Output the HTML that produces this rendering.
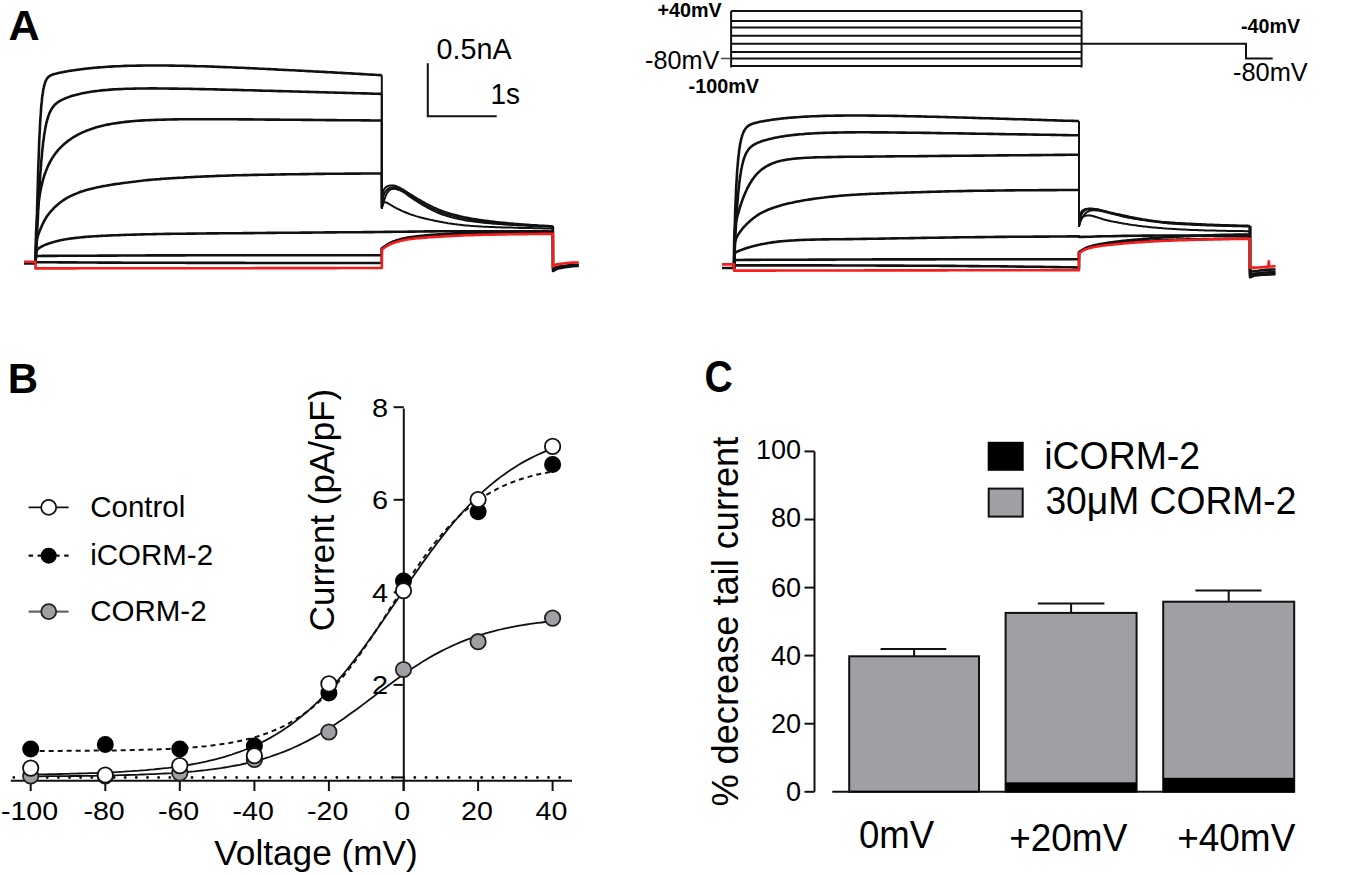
<!DOCTYPE html><html><head><meta charset="utf-8"><style>html,body{margin:0;padding:0;background:#fff;width:1350px;height:875px;overflow:hidden}svg{display:block}text{font-family:"Liberation Sans",sans-serif}</style></head><body>
<svg width="1350" height="875" viewBox="0 0 1350 875">
<rect width="1350" height="875" fill="#fff"/>
<g>
<path d="M24.0 263.5 L28.0 263.5 L32.0 263.5 L35.5 263.5 L35.5 262.0 L35.8 258.7 L36.0 252.0 L36.2 243.6 L36.5 234.2 L36.8 224.3 L37.0 214.4 L37.2 204.6 L37.5 195.0 L37.8 185.9 L38.0 177.2 L38.2 169.0 L38.5 161.3 L38.8 154.1 L39.0 147.5 L39.2 141.3 L39.5 135.6 L39.8 130.4 L40.0 125.5 L40.2 121.1 L40.5 117.1 L40.8 113.4 L41.0 110.0 L41.2 106.9 L41.5 104.0 L41.8 101.4 L42.0 99.1 L42.2 96.9 L42.5 95.0 L42.8 93.2 L43.0 91.6 L43.2 90.1 L43.5 88.8 L43.8 87.5 L44.0 86.4 L44.2 85.4 L44.5 84.5 L44.8 83.6 L45.0 82.9 L45.2 82.2 L45.5 81.5 L45.8 80.9 L46.0 80.4 L46.2 79.9 L46.5 79.4 L46.8 79.0 L47.0 78.6 L47.2 78.3 L47.5 78.0 L47.8 77.7 L48.0 77.4 L48.2 77.1 L48.5 76.9 L48.8 76.7 L49.0 76.5 L49.2 76.3 L49.5 76.1 L49.8 75.9 L50.0 75.8 L50.2 75.6 L50.5 75.5 L50.8 75.4 L51.0 75.2 L51.2 75.1 L51.5 75.0 L51.8 74.9 L52.0 74.8 L52.2 74.7 L52.5 74.6 L52.8 74.5 L53.0 74.4 L53.2 74.4 L53.5 74.3 L53.8 74.2 L54.0 74.1 L54.2 74.1 L54.5 74.0 L54.8 73.9 L55.0 73.9 L55.2 73.8 L55.5 73.7 L56.5 73.5 L57.5 73.2 L58.5 73.0 L59.5 72.8 L60.5 72.6 L61.5 72.4 L62.5 72.2 L63.5 72.0 L64.5 71.8 L65.5 71.6 L66.5 71.5 L67.5 71.3 L68.5 71.1 L69.5 70.9 L70.5 70.8 L71.5 70.6 L72.5 70.5 L73.5 70.3 L74.5 70.2 L75.5 70.0 L76.5 69.9 L77.5 69.7 L78.5 69.6 L79.5 69.5 L80.5 69.3 L81.5 69.2 L82.5 69.1 L83.5 69.0 L84.5 68.8 L85.5 68.7 L86.5 68.6 L87.5 68.5 L88.5 68.4 L89.5 68.3 L90.5 68.2 L91.5 68.1 L92.5 68.0 L93.5 67.9 L94.5 67.8 L95.5 67.7 L98.5 67.4 L101.5 67.2 L104.5 67.0 L107.5 66.8 L110.5 66.6 L113.5 66.4 L116.5 66.3 L119.5 66.2 L122.5 66.0 L125.5 65.9 L128.5 65.8 L131.5 65.7 L134.5 65.7 L137.5 65.6 L140.5 65.6 L143.5 65.5 L146.5 65.5 L149.5 65.5 L152.5 65.5 L155.5 65.5 L158.5 65.5 L161.5 65.5 L164.5 65.5 L167.5 65.5 L170.5 65.6 L173.5 65.6 L176.5 65.7 L179.5 65.7 L182.5 65.8 L185.5 65.9 L188.5 65.9 L191.5 66.0 L194.5 66.1 L197.5 66.2 L200.5 66.3 L203.5 66.3 L206.5 66.4 L209.5 66.5 L212.5 66.6 L215.5 66.8 L218.5 66.9 L221.5 67.0 L224.5 67.1 L227.5 67.2 L230.5 67.3 L233.5 67.5 L236.5 67.6 L239.5 67.7 L242.5 67.8 L245.5 68.0 L248.5 68.1 L251.5 68.3 L254.5 68.4 L257.5 68.5 L260.5 68.7 L263.5 68.8 L266.5 69.0 L269.5 69.1 L272.5 69.3 L275.5 69.4 L278.5 69.6 L281.5 69.7 L284.5 69.9 L287.5 70.0 L290.5 70.2 L293.5 70.3 L296.5 70.5 L299.5 70.6 L302.5 70.8 L305.5 71.0 L308.5 71.1 L311.5 71.3 L314.5 71.5 L317.5 71.6 L320.5 71.8 L323.5 71.9 L326.5 72.1 L329.5 72.3 L332.5 72.4 L335.5 72.6 L338.5 72.8 L341.5 72.9 L344.5 73.1 L347.5 73.3 L350.5 73.4 L353.5 73.6 L356.5 73.8 L359.5 73.9 L362.5 74.1 L365.5 74.3 L368.5 74.5 L371.5 74.6 L374.5 74.8 L377.5 75.0 L380.5 75.1 L381.8 75.2" fill="none" stroke="#111" stroke-width="2.6" stroke-linejoin="round"/>
<path d="M381.8 75.2 L381.8 208.0 L382.3 199.6 L382.8 193.6 L383.3 191.1 L383.8 189.8 L384.3 188.9 L384.8 188.3 L385.3 187.8 L385.8 187.3 L386.3 187.0 L386.8 186.6 L387.3 186.4 L387.8 186.1 L388.3 185.9 L388.8 185.8 L389.3 185.7 L389.8 185.6 L390.3 185.5 L390.8 185.4 L391.3 185.4 L391.8 185.4 L392.3 185.4 L392.8 185.4 L393.3 185.4 L393.8 185.5 L394.3 185.6 L394.8 185.7 L395.3 185.9 L395.8 186.0 L396.3 186.2 L396.8 186.4 L397.3 186.6 L397.8 186.9 L398.3 187.1 L398.8 187.3 L399.3 187.6 L399.8 187.8 L400.3 188.0 L400.8 188.3 L401.3 188.6 L401.8 188.9 L403.8 190.0 L405.8 191.3 L407.8 192.6 L409.8 193.8 L411.8 195.1 L413.8 196.4 L415.8 197.6 L417.8 198.8 L419.8 199.9 L421.8 201.1 L423.8 202.2 L425.8 203.3 L427.8 204.3 L429.8 205.3 L431.8 206.3 L433.8 207.3 L435.8 208.2 L437.8 209.1 L439.8 209.9 L441.8 210.7 L443.8 211.4 L445.8 212.1 L447.8 212.8 L449.8 213.4 L451.8 214.0 L453.8 214.5 L455.8 215.0 L457.8 215.5 L459.8 216.0 L461.8 216.4 L463.8 216.9 L465.8 217.3 L467.8 217.7 L469.8 218.1 L471.8 218.4 L473.8 218.8 L475.8 219.1 L477.8 219.4 L479.8 219.7 L481.8 220.0 L483.8 220.3 L485.8 220.5 L487.8 220.8 L489.8 221.1 L491.8 221.3 L493.8 221.5 L495.8 221.8 L497.8 222.0 L499.8 222.2 L501.8 222.4 L503.8 222.6 L505.8 222.8 L507.8 223.0 L509.8 223.2 L511.8 223.3 L513.8 223.5 L515.8 223.7 L517.8 223.8 L519.8 224.0 L521.8 224.2 L523.8 224.3 L525.8 224.5 L527.8 224.6 L529.8 224.7 L531.8 224.9 L533.8 225.0 L535.8 225.1 L537.8 225.3 L539.8 225.4 L541.8 225.5 L543.8 225.6 L545.8 225.7 L547.8 225.8 L549.8 225.9 L551.8 226.0 L552.8 226.0" fill="none" stroke="#111" stroke-width="2.0" stroke-linejoin="round"/>
<path d="M552.8 226.0 L553.0 271.0 L557.0 268.8 L558.0 268.5 L561.0 267.9 L565.0 267.2 L569.0 266.6 L573.0 266.2 L577.0 266.0 L578.8 266.0" fill="none" stroke="#111" stroke-width="2.6" stroke-linejoin="round"/>
<path d="M35.5 262.0 L35.6 262.0 L35.5 262.0 L35.8 259.6 L36.0 255.8 L36.2 251.3 L36.5 246.3 L36.8 241.2 L37.0 235.9 L37.2 230.6 L37.5 225.3 L37.8 220.0 L38.0 214.9 L38.2 209.9 L38.5 205.0 L38.8 200.3 L39.0 195.7 L39.2 191.3 L39.5 187.1 L39.8 183.0 L40.0 179.1 L40.2 175.4 L40.5 171.9 L40.8 168.4 L41.0 165.2 L41.2 162.1 L41.5 159.1 L41.8 156.3 L42.0 153.6 L42.2 151.1 L42.5 148.6 L42.8 146.3 L43.0 144.1 L43.2 142.0 L43.5 140.1 L43.8 138.2 L44.0 136.4 L44.2 134.7 L44.5 133.1 L44.8 131.5 L45.0 130.1 L45.2 128.7 L45.5 127.3 L45.8 126.1 L46.0 124.9 L46.2 123.8 L46.5 122.7 L46.8 121.7 L47.0 120.7 L47.2 119.7 L47.5 118.9 L47.8 118.0 L48.0 117.2 L48.2 116.5 L48.5 115.7 L48.8 115.0 L49.0 114.4 L49.2 113.7 L49.5 113.1 L49.8 112.6 L50.0 112.0 L50.2 111.5 L50.5 111.0 L50.8 110.5 L51.0 110.0 L51.2 109.6 L51.5 109.2 L51.8 108.8 L52.0 108.4 L52.2 108.0 L52.5 107.6 L52.8 107.3 L53.0 106.9 L53.2 106.6 L53.5 106.3 L53.8 106.0 L54.0 105.7 L54.2 105.5 L54.5 105.2 L54.8 104.9 L55.0 104.7 L55.2 104.4 L55.5 104.2 L56.5 103.3 L57.5 102.5 L58.5 101.8 L59.5 101.2 L60.5 100.6 L61.5 100.1 L62.5 99.6 L63.5 99.1 L64.5 98.7 L65.5 98.3 L66.5 97.9 L67.5 97.5 L68.5 97.1 L69.5 96.8 L70.5 96.4 L71.5 96.1 L72.5 95.8 L73.5 95.5 L74.5 95.2 L75.5 95.0 L76.5 94.7 L77.5 94.4 L78.5 94.2 L79.5 94.0 L80.5 93.7 L81.5 93.5 L82.5 93.3 L83.5 93.1 L84.5 92.9 L85.5 92.7 L86.5 92.5 L87.5 92.3 L88.5 92.2 L89.5 92.0 L90.5 91.8 L91.5 91.7 L92.5 91.5 L93.5 91.4 L94.5 91.3 L95.5 91.1 L98.5 90.8 L101.5 90.4 L104.5 90.1 L107.5 89.9 L110.5 89.6 L113.5 89.4 L116.5 89.3 L119.5 89.1 L122.5 89.0 L125.5 88.8 L128.5 88.7 L131.5 88.7 L134.5 88.6 L137.5 88.5 L140.5 88.5 L143.5 88.5 L146.5 88.5 L149.5 88.4 L152.5 88.4 L155.5 88.4 L158.5 88.5 L161.5 88.5 L164.5 88.5 L167.5 88.5 L170.5 88.6 L173.5 88.6 L176.5 88.6 L179.5 88.7 L182.5 88.7 L185.5 88.8 L188.5 88.8 L191.5 88.9 L194.5 89.0 L197.5 89.0 L200.5 89.1 L203.5 89.1 L206.5 89.2 L209.5 89.3 L212.5 89.3 L215.5 89.4 L218.5 89.5 L221.5 89.6 L224.5 89.6 L227.5 89.7 L230.5 89.8 L233.5 89.9 L236.5 89.9 L239.5 90.0 L242.5 90.1 L245.5 90.2 L248.5 90.3 L251.5 90.3 L254.5 90.4 L257.5 90.5 L260.5 90.6 L263.5 90.7 L266.5 90.7 L269.5 90.8 L272.5 90.9 L275.5 91.0 L278.5 91.1 L281.5 91.1 L284.5 91.2 L287.5 91.3 L290.5 91.4 L293.5 91.5 L296.5 91.5 L299.5 91.6 L302.5 91.7 L305.5 91.8 L308.5 91.9 L311.5 92.0 L314.5 92.0 L317.5 92.1 L320.5 92.2 L323.5 92.3 L326.5 92.4 L329.5 92.5 L332.5 92.5 L335.5 92.6 L338.5 92.7 L341.5 92.8 L344.5 92.9 L347.5 93.0 L350.5 93.0 L353.5 93.1 L356.5 93.2 L359.5 93.3 L362.5 93.4 L365.5 93.4 L368.5 93.5 L371.5 93.6 L374.5 93.7 L377.5 93.8 L380.5 93.9 L381.8 93.9" fill="none" stroke="#111" stroke-width="2.6" stroke-linejoin="round"/>
<path d="M381.8 93.9 L381.8 208.0 L382.3 203.4 L382.8 199.5 L383.3 196.7 L383.8 194.9 L384.3 193.6 L384.8 192.6 L385.3 191.8 L385.8 191.1 L386.3 190.5 L386.8 190.0 L387.3 189.5 L387.8 189.1 L388.3 188.7 L388.8 188.4 L389.3 188.2 L389.8 187.9 L390.3 187.8 L390.8 187.6 L391.3 187.5 L391.8 187.4 L392.3 187.3 L392.8 187.3 L393.3 187.3 L393.8 187.3 L394.3 187.3 L394.8 187.4 L395.3 187.4 L395.8 187.5 L396.3 187.7 L396.8 187.8 L397.3 188.0 L397.8 188.2 L398.3 188.4 L398.8 188.6 L399.3 188.7 L399.8 188.9 L400.3 189.1 L400.8 189.4 L401.3 189.6 L401.8 189.9 L403.8 191.0 L405.8 192.3 L407.8 193.7 L409.8 195.1 L411.8 196.5 L413.8 197.9 L415.8 199.3 L417.8 200.6 L419.8 201.9 L421.8 203.1 L423.8 204.2 L425.8 205.3 L427.8 206.3 L429.8 207.3 L431.8 208.3 L433.8 209.2 L435.8 210.1 L437.8 210.9 L439.8 211.7 L441.8 212.5 L443.8 213.2 L445.8 213.8 L447.8 214.5 L449.8 215.1 L451.8 215.6 L453.8 216.1 L455.8 216.6 L457.8 217.1 L459.8 217.6 L461.8 218.0 L463.8 218.4 L465.8 218.8 L467.8 219.2 L469.8 219.5 L471.8 219.9 L473.8 220.2 L475.8 220.5 L477.8 220.7 L479.8 221.0 L481.8 221.3 L483.8 221.5 L485.8 221.7 L487.8 222.0 L489.8 222.2 L491.8 222.4 L493.8 222.6 L495.8 222.8 L497.8 223.0 L499.8 223.2 L501.8 223.3 L503.8 223.5 L505.8 223.7 L507.8 223.8 L509.8 224.0 L511.8 224.1 L513.8 224.3 L515.8 224.4 L517.8 224.5 L519.8 224.7 L521.8 224.8 L523.8 224.9 L525.8 225.1 L527.8 225.2 L529.8 225.3 L531.8 225.4 L533.8 225.5 L535.8 225.7 L537.8 225.8 L539.8 225.9 L541.8 226.0 L543.8 226.0 L545.8 226.1 L547.8 226.2 L549.8 226.3 L551.8 226.4 L552.8 226.4" fill="none" stroke="#111" stroke-width="2.0" stroke-linejoin="round"/>
<path d="M552.8 226.4 L553.0 268.5 L557.0 267.0 L558.0 266.8 L561.0 266.3 L565.0 265.8 L569.0 265.3 L573.0 265.0 L577.0 264.8 L578.8 264.8" fill="none" stroke="#111" stroke-width="2.6" stroke-linejoin="round"/>
<path d="M35.5 262.0 L35.6 262.0 L35.5 262.0 L35.8 242.6 L36.0 235.1 L36.2 229.6 L36.5 225.2 L36.8 221.3 L37.0 218.0 L37.2 215.0 L37.5 212.3 L37.8 209.8 L38.0 207.5 L38.2 205.3 L38.5 203.3 L38.8 201.5 L39.0 199.7 L39.2 198.0 L39.5 196.4 L39.8 194.9 L40.0 193.5 L40.2 192.1 L40.5 190.8 L40.8 189.5 L41.0 188.3 L41.2 187.1 L41.5 186.0 L41.8 184.9 L42.0 183.9 L42.2 182.9 L42.5 181.9 L42.8 180.9 L43.0 180.0 L43.2 179.1 L43.5 178.3 L43.8 177.4 L44.0 176.6 L44.2 175.8 L44.5 175.1 L44.8 174.3 L45.0 173.6 L45.2 172.9 L45.5 172.2 L45.8 171.5 L46.0 170.9 L46.2 170.2 L46.5 169.6 L46.8 169.0 L47.0 168.4 L47.2 167.8 L47.5 167.2 L47.8 166.6 L48.0 166.1 L48.2 165.5 L48.5 165.0 L48.8 164.5 L49.0 164.0 L49.2 163.5 L49.5 163.0 L49.8 162.5 L50.0 162.0 L50.2 161.6 L50.5 161.1 L50.8 160.7 L51.0 160.2 L51.2 159.8 L51.5 159.4 L51.8 158.9 L52.0 158.5 L52.2 158.1 L52.5 157.7 L52.8 157.3 L53.0 157.0 L53.2 156.6 L53.5 156.2 L53.8 155.8 L54.0 155.5 L54.2 155.1 L54.5 154.8 L54.8 154.4 L55.0 154.1 L55.2 153.7 L55.5 153.4 L56.5 152.1 L57.5 150.9 L58.5 149.7 L59.5 148.6 L60.5 147.6 L61.5 146.6 L62.5 145.6 L63.5 144.7 L64.5 143.8 L65.5 142.9 L66.5 142.1 L67.5 141.4 L68.5 140.6 L69.5 139.9 L70.5 139.2 L71.5 138.5 L72.5 137.8 L73.5 137.2 L74.5 136.6 L75.5 136.0 L76.5 135.5 L77.5 134.9 L78.5 134.4 L79.5 133.9 L80.5 133.4 L81.5 132.9 L82.5 132.4 L83.5 132.0 L84.5 131.6 L85.5 131.1 L86.5 130.7 L87.5 130.3 L88.5 130.0 L89.5 129.6 L90.5 129.2 L91.5 128.9 L92.5 128.6 L93.5 128.2 L94.5 127.9 L95.5 127.6 L98.5 126.8 L101.5 126.0 L104.5 125.3 L107.5 124.6 L110.5 124.1 L113.5 123.5 L116.5 123.1 L119.5 122.6 L122.5 122.2 L125.5 121.9 L128.5 121.6 L131.5 121.3 L134.5 121.0 L137.5 120.8 L140.5 120.6 L143.5 120.4 L146.5 120.3 L149.5 120.1 L152.5 120.0 L155.5 119.9 L158.5 119.8 L161.5 119.7 L164.5 119.6 L167.5 119.5 L170.5 119.5 L173.5 119.4 L176.5 119.4 L179.5 119.3 L182.5 119.3 L185.5 119.3 L188.5 119.3 L191.5 119.2 L194.5 119.2 L197.5 119.2 L200.5 119.2 L203.5 119.2 L206.5 119.2 L209.5 119.2 L212.5 119.2 L215.5 119.2 L218.5 119.2 L221.5 119.3 L224.5 119.3 L227.5 119.3 L230.5 119.3 L233.5 119.3 L236.5 119.3 L239.5 119.4 L242.5 119.4 L245.5 119.4 L248.5 119.4 L251.5 119.4 L254.5 119.5 L257.5 119.5 L260.5 119.5 L263.5 119.5 L266.5 119.6 L269.5 119.6 L272.5 119.6 L275.5 119.6 L278.5 119.6 L281.5 119.7 L284.5 119.7 L287.5 119.7 L290.5 119.7 L293.5 119.8 L296.5 119.8 L299.5 119.8 L302.5 119.9 L305.5 119.9 L308.5 119.9 L311.5 119.9 L314.5 120.0 L317.5 120.0 L320.5 120.0 L323.5 120.0 L326.5 120.1 L329.5 120.1 L332.5 120.1 L335.5 120.1 L338.5 120.2 L341.5 120.2 L344.5 120.2 L347.5 120.2 L350.5 120.3 L353.5 120.3 L356.5 120.3 L359.5 120.3 L362.5 120.4 L365.5 120.4 L368.5 120.4 L371.5 120.5 L374.5 120.5 L377.5 120.5 L380.5 120.5 L381.8 120.5" fill="none" stroke="#111" stroke-width="2.6" stroke-linejoin="round"/>
<path d="M381.8 120.5 L381.8 208.0 L382.3 206.2 L382.8 204.4 L383.3 202.8 L383.8 201.2 L384.3 199.8 L384.8 198.3 L385.3 197.0 L385.8 195.7 L386.3 194.6 L386.8 193.6 L387.3 192.8 L387.8 192.1 L388.3 191.4 L388.8 190.9 L389.3 190.4 L389.8 190.0 L390.3 189.7 L390.8 189.5 L391.3 189.2 L391.8 189.1 L392.3 189.0 L392.8 188.9 L393.3 188.8 L393.8 188.8 L394.3 188.8 L394.8 188.8 L395.3 188.9 L395.8 189.0 L396.3 189.1 L396.8 189.2 L397.3 189.4 L397.8 189.5 L398.3 189.7 L398.8 189.9 L399.3 190.0 L399.8 190.2 L400.3 190.4 L400.8 190.7 L401.3 190.9 L401.8 191.2 L403.8 192.3 L405.8 193.7 L407.8 195.1 L409.8 196.6 L411.8 198.0 L413.8 199.4 L415.8 200.7 L417.8 202.0 L419.8 203.2 L421.8 204.4 L423.8 205.6 L425.8 206.7 L427.8 207.8 L429.8 208.9 L431.8 209.9 L433.8 210.9 L435.8 211.8 L437.8 212.7 L439.8 213.5 L441.8 214.3 L443.8 215.0 L445.8 215.6 L447.8 216.3 L449.8 216.8 L451.8 217.4 L453.8 217.9 L455.8 218.3 L457.8 218.8 L459.8 219.2 L461.8 219.6 L463.8 220.0 L465.8 220.4 L467.8 220.7 L469.8 221.0 L471.8 221.3 L473.8 221.6 L475.8 221.8 L477.8 222.1 L479.8 222.3 L481.8 222.5 L483.8 222.7 L485.8 222.9 L487.8 223.1 L489.8 223.3 L491.8 223.5 L493.8 223.7 L495.8 223.8 L497.8 224.0 L499.8 224.1 L501.8 224.3 L503.8 224.4 L505.8 224.5 L507.8 224.7 L509.8 224.8 L511.8 224.9 L513.8 225.0 L515.8 225.1 L517.8 225.3 L519.8 225.4 L521.8 225.5 L523.8 225.6 L525.8 225.7 L527.8 225.8 L529.8 225.9 L531.8 226.0 L533.8 226.1 L535.8 226.2 L537.8 226.3 L539.8 226.4 L541.8 226.4 L543.8 226.5 L545.8 226.6 L547.8 226.6 L549.8 226.7 L551.8 226.8 L552.8 226.8" fill="none" stroke="#111" stroke-width="2.0" stroke-linejoin="round"/>
<path d="M35.5 262.0 L35.6 262.0 L35.5 262.0 L36.0 246.0 L36.5 241.9 L37.0 239.3 L37.5 237.3 L38.0 235.6 L38.5 234.1 L39.0 232.7 L39.5 231.4 L40.0 230.1 L40.5 228.9 L41.0 227.7 L41.5 226.6 L42.0 225.4 L42.5 224.4 L43.0 223.3 L43.5 222.3 L44.0 221.3 L44.5 220.4 L45.0 219.5 L45.5 218.7 L46.0 217.8 L46.5 217.1 L47.0 216.3 L47.5 215.6 L48.0 214.9 L48.5 214.2 L49.0 213.6 L49.5 212.9 L50.0 212.3 L50.5 211.8 L51.0 211.2 L51.5 210.6 L52.0 210.1 L52.5 209.6 L53.0 209.0 L53.5 208.5 L54.0 207.9 L54.5 207.4 L55.0 206.9 L55.5 206.5 L57.5 204.7 L59.5 203.0 L61.5 201.5 L63.5 200.2 L65.5 198.9 L67.5 197.7 L69.5 196.7 L71.5 195.7 L73.5 194.7 L75.5 193.9 L77.5 193.1 L79.5 192.3 L81.5 191.6 L83.5 190.9 L85.5 190.3 L87.5 189.7 L89.5 189.2 L91.5 188.7 L93.5 188.2 L95.5 187.8 L97.5 187.3 L99.5 186.9 L101.5 186.5 L103.5 186.1 L105.5 185.8 L107.5 185.4 L109.5 185.1 L111.5 184.7 L113.5 184.4 L115.5 184.1 L117.5 183.8 L119.5 183.6 L121.5 183.3 L123.5 183.0 L125.5 182.7 L127.5 182.5 L129.5 182.2 L131.5 182.0 L133.5 181.7 L135.5 181.5 L137.5 181.2 L139.5 181.0 L141.5 180.8 L143.5 180.5 L145.5 180.3 L147.5 180.1 L149.5 179.9 L151.5 179.7 L153.5 179.5 L155.5 179.4 L157.5 179.2 L159.5 179.1 L161.5 178.9 L163.5 178.8 L165.5 178.6 L167.5 178.5 L169.5 178.4 L171.5 178.3 L173.5 178.1 L175.5 178.0 L177.5 177.9 L179.5 177.8 L181.5 177.7 L183.5 177.6 L185.5 177.4 L187.5 177.3 L189.5 177.2 L191.5 177.1 L193.5 177.0 L195.5 176.9 L197.5 176.8 L199.5 176.7 L201.5 176.6 L203.5 176.5 L205.5 176.4 L207.5 176.4 L209.5 176.3 L211.5 176.2 L213.5 176.1 L215.5 176.0 L217.5 175.9 L219.5 175.9 L221.5 175.8 L223.5 175.7 L225.5 175.7 L227.5 175.6 L229.5 175.5 L231.5 175.5 L233.5 175.4 L235.5 175.3 L237.5 175.3 L239.5 175.2 L241.5 175.2 L243.5 175.1 L245.5 175.1 L247.5 175.1 L249.5 175.0 L251.5 175.0 L253.5 174.9 L255.5 174.9 L257.5 174.9 L259.5 174.8 L261.5 174.8 L263.5 174.8 L265.5 174.7 L267.5 174.7 L269.5 174.6 L271.5 174.6 L273.5 174.6 L275.5 174.5 L277.5 174.5 L279.5 174.5 L281.5 174.4 L283.5 174.4 L285.5 174.4 L287.5 174.3 L289.5 174.3 L291.5 174.3 L293.5 174.3 L295.5 174.2 L297.5 174.2 L299.5 174.2 L301.5 174.1 L303.5 174.1 L305.5 174.1 L307.5 174.1 L309.5 174.0 L311.5 174.0 L313.5 174.0 L315.5 173.9 L317.5 173.9 L319.5 173.9 L321.5 173.9 L323.5 173.9 L325.5 173.8 L327.5 173.8 L329.5 173.8 L331.5 173.8 L333.5 173.7 L335.5 173.7 L337.5 173.7 L339.5 173.7 L341.5 173.7 L343.5 173.7 L345.5 173.6 L347.5 173.6 L349.5 173.6 L351.5 173.6 L353.5 173.6 L355.5 173.6 L357.5 173.6 L359.5 173.6 L361.5 173.5 L363.5 173.5 L365.5 173.5 L367.5 173.5 L369.5 173.5 L371.5 173.5 L373.5 173.5 L375.5 173.5 L377.5 173.5 L379.5 173.5 L381.5 173.5" fill="none" stroke="#111" stroke-width="2.6" stroke-linejoin="round"/>
<path d="M381.5 173.5 L381.8 208.0 L382.3 206.4 L382.8 204.9 L383.3 203.6 L383.8 202.8 L384.3 202.4 L384.8 202.3 L385.3 202.3 L385.8 202.4 L386.3 202.6 L386.8 202.7 L387.3 203.0 L387.8 203.2 L388.3 203.5 L388.8 203.8 L389.3 204.1 L389.8 204.4 L390.3 204.7 L390.8 205.0 L391.3 205.3 L391.8 205.6 L392.3 205.9 L392.8 206.2 L393.3 206.5 L393.8 206.8 L394.3 207.1 L394.8 207.3 L395.3 207.6 L395.8 207.9 L396.3 208.1 L396.8 208.4 L397.3 208.6 L397.8 208.9 L398.3 209.1 L398.8 209.3 L399.3 209.6 L399.8 209.8 L400.3 210.1 L400.8 210.3 L401.3 210.5 L401.8 210.8 L403.8 211.7 L405.8 212.5 L407.8 213.3 L409.8 214.1 L411.8 214.8 L413.8 215.4 L415.8 216.1 L417.8 216.6 L419.8 217.2 L421.8 217.7 L423.8 218.2 L425.8 218.7 L427.8 219.2 L429.8 219.6 L431.8 220.1 L433.8 220.5 L435.8 220.9 L437.8 221.3 L439.8 221.7 L441.8 222.1 L443.8 222.5 L445.8 222.8 L447.8 223.2 L449.8 223.5 L451.8 223.8 L453.8 224.1 L455.8 224.3 L457.8 224.6 L459.8 224.8 L461.8 225.0 L463.8 225.2 L465.8 225.4 L467.8 225.6 L469.8 225.8 L471.8 225.9 L473.8 226.1 L475.8 226.2 L477.8 226.3 L479.8 226.4 L481.8 226.6 L483.8 226.7 L485.8 226.7 L487.8 226.8 L489.8 226.9 L491.8 227.0 L493.8 227.1 L495.8 227.2 L497.8 227.2 L499.8 227.3 L501.8 227.4 L503.8 227.4 L505.8 227.5 L507.8 227.5 L509.8 227.6 L511.8 227.6 L513.8 227.7 L515.8 227.8 L517.8 227.8 L519.8 227.9 L521.8 227.9 L523.8 228.0 L525.8 228.0 L527.8 228.1 L529.8 228.1 L531.8 228.1 L533.8 228.2 L535.8 228.2 L537.8 228.3 L539.8 228.3 L541.8 228.3 L543.8 228.4 L545.8 228.4 L547.8 228.4 L549.8 228.5 L551.8 228.5 L552.8 228.5" fill="none" stroke="#111" stroke-width="2.0" stroke-linejoin="round"/>
<path d="M35.5 262.0 L35.6 262.0 L35.5 262.0 L36.0 253.6 L36.5 251.4 L37.0 250.3 L37.5 249.6 L38.0 249.1 L38.5 248.6 L39.0 248.2 L39.5 247.9 L40.0 247.5 L40.5 247.2 L41.0 246.9 L41.5 246.6 L42.0 246.3 L42.5 246.1 L43.0 245.8 L43.5 245.6 L44.0 245.4 L44.5 245.1 L45.0 244.9 L45.5 244.7 L46.0 244.5 L46.5 244.4 L47.0 244.2 L47.5 244.0 L48.0 243.8 L48.5 243.6 L49.0 243.5 L49.5 243.3 L50.0 243.1 L50.5 243.0 L51.0 242.8 L51.5 242.7 L52.0 242.5 L52.5 242.4 L53.0 242.2 L53.5 242.1 L54.0 241.9 L54.5 241.8 L55.0 241.6 L55.5 241.5 L57.5 241.0 L59.5 240.5 L61.5 240.1 L63.5 239.7 L65.5 239.3 L67.5 239.0 L69.5 238.7 L71.5 238.4 L73.5 238.2 L75.5 237.9 L77.5 237.7 L79.5 237.5 L81.5 237.3 L83.5 237.1 L85.5 236.9 L87.5 236.8 L89.5 236.6 L91.5 236.5 L93.5 236.3 L95.5 236.2 L97.5 236.1 L99.5 236.0 L101.5 235.9 L103.5 235.8 L105.5 235.7 L107.5 235.6 L109.5 235.5 L111.5 235.4 L113.5 235.3 L115.5 235.2 L117.5 235.2 L119.5 235.1 L121.5 235.0 L123.5 235.0 L125.5 234.9 L127.5 234.8 L129.5 234.8 L131.5 234.7 L133.5 234.6 L135.5 234.6 L137.5 234.5 L139.5 234.5 L141.5 234.4 L143.5 234.4 L145.5 234.3 L147.5 234.3 L149.5 234.2 L151.5 234.2 L153.5 234.1 L155.5 234.1 L157.5 234.0 L159.5 234.0 L161.5 234.0 L163.5 234.0 L165.5 233.9 L167.5 233.9 L169.5 233.9 L171.5 233.8 L173.5 233.8 L175.5 233.8 L177.5 233.8 L179.5 233.7 L181.5 233.7 L183.5 233.7 L185.5 233.7 L187.5 233.6 L189.5 233.6 L191.5 233.6 L193.5 233.6 L195.5 233.6 L197.5 233.5 L199.5 233.5 L201.5 233.5 L203.5 233.5 L205.5 233.5 L207.5 233.4 L209.5 233.4 L211.5 233.4 L213.5 233.4 L215.5 233.4 L217.5 233.4 L219.5 233.3 L221.5 233.3 L223.5 233.3 L225.5 233.3 L227.5 233.3 L229.5 233.3 L231.5 233.2 L233.5 233.2 L235.5 233.2 L237.5 233.2 L239.5 233.2 L241.5 233.2 L243.5 233.1 L245.5 233.1 L247.5 233.1 L249.5 233.1 L251.5 233.1 L253.5 233.1 L255.5 233.0 L257.5 233.0 L259.5 233.0 L261.5 233.0 L263.5 233.0 L265.5 233.0 L267.5 232.9 L269.5 232.9 L271.5 232.9 L273.5 232.9 L275.5 232.9 L277.5 232.8 L279.5 232.8 L281.5 232.8 L283.5 232.8 L285.5 232.8 L287.5 232.8 L289.5 232.7 L291.5 232.7 L293.5 232.7 L295.5 232.7 L297.5 232.7 L299.5 232.7 L301.5 232.6 L303.5 232.6 L305.5 232.6 L307.5 232.6 L309.5 232.6 L311.5 232.6 L313.5 232.5 L315.5 232.5 L317.5 232.5 L319.5 232.5 L321.5 232.5 L323.5 232.5 L325.5 232.4 L327.5 232.4 L329.5 232.4 L331.5 232.4 L333.5 232.4 L335.5 232.4 L337.5 232.3 L339.5 232.3 L341.5 232.3 L343.5 232.3 L345.5 232.3 L347.5 232.3 L349.5 232.2 L351.5 232.2 L353.5 232.2 L355.5 232.2 L357.5 232.2 L359.5 232.2 L361.5 232.2 L363.5 232.1 L365.5 232.1 L367.5 232.1 L369.5 232.1 L371.5 232.1 L373.5 232.1 L375.5 232.0 L377.5 232.0 L379.5 232.0 L381.5 232.0 L381.8 232.0 L385.8 231.9 L389.8 231.9 L393.8 231.8 L397.8 231.8 L401.8 231.7 L405.8 231.7 L409.8 231.6 L413.8 231.6 L417.8 231.5 L421.8 231.5 L425.8 231.4 L429.8 231.4 L433.8 231.4 L437.8 231.3 L441.8 231.3 L445.8 231.3 L449.8 231.3 L453.8 231.2 L457.8 231.2 L461.8 231.2 L465.8 231.2 L469.8 231.2 L473.8 231.2 L475.0 231.2 L477.8 231.2 L481.8 231.2 L485.8 231.2 L489.8 231.2 L493.8 231.2 L497.8 231.2 L501.8 231.2 L505.8 231.2 L509.8 231.2 L513.8 231.3 L517.8 231.3 L521.8 231.3 L525.8 231.3 L529.8 231.3 L533.8 231.4 L537.8 231.4 L541.8 231.4 L545.8 231.4 L549.8 231.5 L553.0 231.5" fill="none" stroke="#111" stroke-width="2.6" stroke-linejoin="round"/>
<path d="M35.5 262.0 L35.6 262.0 L35.5 262.0 L36.0 256.0 L39.5 256.0 L43.5 255.9 L47.5 255.9 L51.5 255.9 L55.5 255.9 L59.5 255.8 L63.5 255.8 L67.5 255.8 L71.5 255.8 L75.5 255.8 L79.5 255.7 L83.5 255.7 L87.5 255.7 L91.5 255.7 L95.5 255.7 L99.5 255.6 L103.5 255.6 L107.5 255.6 L111.5 255.6 L115.5 255.6 L119.5 255.5 L123.5 255.5 L127.5 255.5 L131.5 255.5 L135.5 255.5 L139.5 255.5 L143.5 255.5 L147.5 255.4 L151.5 255.4 L155.5 255.4 L159.5 255.4 L163.5 255.4 L167.5 255.4 L171.5 255.4 L175.5 255.4 L179.5 255.4 L183.5 255.4 L187.5 255.3 L191.5 255.3 L195.5 255.3 L199.5 255.3 L203.5 255.3 L207.5 255.3 L211.5 255.3 L215.5 255.3 L219.5 255.3 L223.5 255.3 L227.5 255.3 L231.5 255.3 L235.5 255.3 L239.5 255.3 L243.5 255.3 L247.5 255.2 L251.5 255.2 L255.5 255.2 L259.5 255.2 L263.5 255.2 L267.5 255.2 L271.5 255.2 L275.5 255.2 L279.5 255.2 L283.5 255.2 L287.5 255.2 L291.5 255.2 L295.5 255.2 L299.5 255.2 L303.5 255.2 L307.5 255.2 L311.5 255.2 L315.5 255.2 L319.5 255.2 L323.5 255.2 L327.5 255.2 L331.5 255.2 L335.5 255.2 L339.5 255.2 L343.5 255.2 L347.5 255.2 L351.5 255.2 L355.5 255.2 L359.5 255.2 L363.5 255.2 L367.5 255.2 L371.5 255.2 L375.5 255.2 L379.5 255.2 L381.8 255.2 L381.8 248.6 L382.8 247.8 L383.8 247.1 L384.8 246.4 L385.8 245.7 L386.8 245.0 L387.8 244.3 L388.8 243.7 L389.8 243.1 L390.8 242.6 L391.8 242.1 L392.8 241.7 L393.3 241.5 L393.8 241.3 L394.8 241.0 L395.8 240.6 L396.8 240.3 L397.8 240.0 L398.8 239.7 L399.8 239.4 L400.8 239.1 L401.8 238.9 L402.8 238.6 L403.8 238.4 L404.8 238.2 L405.8 238.0 L406.8 237.8 L407.8 237.6 L408.8 237.4 L409.8 237.3 L410.8 237.1 L411.6 237.0 L411.8 237.0 L412.8 236.8 L413.8 236.7 L414.8 236.6 L415.8 236.5 L416.8 236.3 L417.8 236.2 L418.8 236.1 L419.8 236.0 L420.8 235.9 L421.8 235.8 L422.8 235.7 L423.8 235.6 L424.8 235.5 L425.8 235.4 L426.8 235.3 L427.8 235.2 L428.8 235.1 L429.8 235.1 L430.8 235.0 L431.8 234.9 L432.8 234.8 L433.8 234.7 L434.8 234.7 L435.8 234.6 L436.8 234.5 L437.8 234.5 L438.8 234.4 L439.8 234.3 L440.8 234.3 L441.8 234.2 L442.8 234.1 L443.8 234.1 L444.8 234.0 L445.8 233.9 L446.8 233.9 L447.8 233.8 L448.1 233.8 L448.8 233.8 L449.8 233.7 L450.8 233.6 L451.8 233.6 L452.8 233.5 L453.8 233.4 L454.8 233.4 L455.8 233.3 L456.8 233.3 L457.8 233.2 L458.8 233.2 L459.8 233.1 L460.8 233.0 L461.8 233.0 L462.8 232.9 L463.8 232.9 L464.8 232.8 L465.8 232.8 L466.8 232.7 L467.8 232.7 L468.8 232.7 L469.8 232.6 L470.8 232.6 L471.8 232.6 L472.8 232.5 L473.8 232.5 L474.8 232.5 L475.0 232.5 L475.8 232.5 L476.8 232.5 L477.8 232.5 L478.8 232.4 L479.8 232.4 L480.8 232.4 L481.8 232.4 L482.8 232.4 L483.8 232.4 L484.8 232.3 L485.8 232.3 L486.8 232.3 L487.8 232.3 L488.8 232.3 L489.8 232.3 L490.8 232.3 L491.8 232.2 L492.8 232.2 L493.8 232.2 L494.8 232.2 L495.8 232.2 L496.8 232.2 L497.8 232.2 L498.8 232.1 L499.8 232.1 L500.8 232.1 L501.8 232.1 L502.8 232.1 L503.8 232.1 L504.8 232.1 L505.8 232.1 L506.8 232.1 L507.8 232.0 L508.8 232.0 L509.8 232.0 L510.8 232.0 L511.8 232.0 L512.8 232.0 L513.8 232.0 L514.8 232.0 L515.8 232.0 L516.8 232.0 L517.8 232.0 L518.8 231.9 L519.8 231.9 L520.8 231.9 L521.8 231.9 L522.8 231.9 L523.8 231.9 L524.8 231.9 L525.8 231.9 L526.8 231.9 L527.8 231.9 L528.8 231.9 L529.8 231.9 L530.8 231.9 L531.8 231.9 L532.8 231.9 L533.8 231.8 L534.8 231.8 L535.8 231.8 L536.8 231.8 L537.8 231.8 L538.8 231.8 L539.8 231.8 L540.8 231.8 L541.8 231.8 L542.8 231.8 L543.8 231.8 L544.8 231.8 L545.8 231.8 L546.8 231.8 L547.8 231.8 L548.8 231.8 L549.8 231.8 L550.8 231.8 L551.8 231.8 L552.8 231.8 L553.0 231.8" fill="none" stroke="#111" stroke-width="2.6" stroke-linejoin="round"/>
<path d="M35.5 262.0 L35.6 262.0 L35.5 262.0 L36.0 262.2 L39.5 262.2 L43.5 262.3 L47.5 262.3 L51.5 262.3 L55.5 262.3 L59.5 262.4 L63.5 262.4 L67.5 262.4 L71.5 262.4 L75.5 262.4 L79.5 262.5 L83.5 262.5 L87.5 262.5 L91.5 262.5 L95.5 262.5 L99.5 262.6 L103.5 262.6 L107.5 262.6 L111.5 262.6 L115.5 262.6 L119.5 262.6 L123.5 262.7 L127.5 262.7 L131.5 262.7 L135.5 262.7 L139.5 262.7 L143.5 262.7 L147.5 262.7 L151.5 262.8 L155.5 262.8 L159.5 262.8 L163.5 262.8 L167.5 262.8 L171.5 262.8 L175.5 262.8 L179.5 262.8 L183.5 262.8 L187.5 262.9 L191.5 262.9 L195.5 262.9 L199.5 262.9 L203.5 262.9 L207.5 262.9 L211.5 262.9 L215.5 262.9 L219.5 262.9 L223.5 262.9 L227.5 262.9 L231.5 262.9 L235.5 262.9 L239.5 262.9 L243.5 262.9 L247.5 263.0 L251.5 263.0 L255.5 263.0 L259.5 263.0 L263.5 263.0 L267.5 263.0 L271.5 263.0 L275.5 263.0 L279.5 263.0 L283.5 263.0 L287.5 263.0 L291.5 263.0 L295.5 263.0 L299.5 263.0 L303.5 263.0 L307.5 263.0 L311.5 263.0 L315.5 263.0 L319.5 263.0 L323.5 263.0 L327.5 263.0 L331.5 263.0 L335.5 263.0 L339.5 263.0 L343.5 263.0 L347.5 263.0 L351.5 263.0 L355.5 263.0 L359.5 263.0 L363.5 263.0 L367.5 263.0 L371.5 263.0 L375.5 263.0 L379.5 263.0 L381.8 263.0 L381.8 248.6 L382.8 247.9 L383.8 247.2 L384.8 246.6 L385.8 246.0 L386.8 245.3 L387.8 244.7 L388.8 244.2 L389.8 243.7 L390.8 243.2 L391.8 242.8 L392.8 242.4 L393.3 242.2 L393.8 242.0 L394.8 241.7 L395.8 241.4 L396.8 241.1 L397.8 240.8 L398.8 240.6 L399.8 240.3 L400.8 240.0 L401.8 239.8 L402.8 239.6 L403.8 239.4 L404.8 239.2 L405.8 239.0 L406.8 238.8 L407.8 238.6 L408.8 238.5 L409.8 238.3 L410.8 238.2 L411.6 238.1 L411.8 238.1 L412.8 238.0 L413.8 237.9 L414.8 237.7 L415.8 237.6 L416.8 237.5 L417.8 237.4 L418.8 237.3 L419.8 237.3 L420.8 237.2 L421.8 237.1 L422.8 237.0 L423.8 236.9 L424.8 236.8 L425.8 236.8 L426.8 236.7 L427.8 236.6 L428.8 236.6 L429.8 236.5 L430.8 236.4 L431.8 236.4 L432.8 236.3 L433.8 236.2 L434.8 236.2 L435.8 236.1 L436.8 236.1 L437.8 236.0 L438.8 235.9 L439.8 235.9 L440.8 235.8 L441.8 235.8 L442.8 235.7 L443.8 235.7 L444.8 235.6 L445.8 235.5 L446.8 235.5 L447.8 235.4 L448.1 235.4 L448.8 235.4 L449.8 235.3 L450.8 235.2 L451.8 235.2 L452.8 235.1 L453.8 235.0 L454.8 235.0 L455.8 234.9 L456.8 234.8 L457.8 234.8 L458.8 234.7 L459.8 234.6 L460.8 234.6 L461.8 234.5 L462.8 234.4 L463.8 234.4 L464.8 234.3 L465.8 234.3 L466.8 234.2 L467.8 234.2 L468.8 234.2 L469.8 234.1 L470.8 234.1 L471.8 234.1 L472.8 234.0 L473.8 234.0 L474.8 234.0 L475.0 234.0 L475.8 234.0 L476.8 234.0 L477.8 234.0 L478.8 234.0 L479.8 234.0 L480.8 234.0 L481.8 233.9 L482.8 233.9 L483.8 233.9 L484.8 233.9 L485.8 233.9 L486.8 233.9 L487.8 233.9 L488.8 233.9 L489.8 233.9 L490.8 233.9 L491.8 233.9 L492.8 233.9 L493.8 233.9 L494.8 233.9 L495.8 233.9 L496.8 233.8 L497.8 233.8 L498.8 233.8 L499.8 233.8 L500.8 233.8 L501.8 233.8 L502.8 233.8 L503.8 233.8 L504.8 233.8 L505.8 233.8 L506.8 233.8 L507.8 233.8 L508.8 233.8 L509.8 233.8 L510.8 233.8 L511.8 233.8 L512.8 233.8 L513.8 233.8 L514.8 233.8 L515.8 233.8 L516.8 233.8 L517.8 233.8 L518.8 233.8 L519.8 233.7 L520.8 233.7 L521.8 233.7 L522.8 233.7 L523.8 233.7 L524.8 233.7 L525.8 233.7 L526.8 233.7 L527.8 233.7 L528.8 233.7 L529.8 233.7 L530.8 233.7 L531.8 233.7 L532.8 233.7 L533.8 233.7 L534.8 233.7 L535.8 233.7 L536.8 233.7 L537.8 233.7 L538.8 233.7 L539.8 233.7 L540.8 233.7 L541.8 233.7 L542.8 233.7 L543.8 233.7 L544.8 233.7 L545.8 233.7 L546.8 233.7 L547.8 233.7 L548.8 233.7 L549.8 233.7 L550.8 233.7 L551.8 233.7 L552.8 233.7 L553.0 233.7" fill="none" stroke="#111" stroke-width="2.6" stroke-linejoin="round"/>
<path d="M24.0 261.7 L28.0 261.7 L32.0 261.7 L35.5 261.7 L35.5 268.4 L39.5 268.4 L43.5 268.4 L47.5 268.4 L51.5 268.4 L55.5 268.4 L59.5 268.4 L63.5 268.4 L67.5 268.4 L71.5 268.4 L75.5 268.4 L79.5 268.3 L83.5 268.3 L87.5 268.3 L91.5 268.3 L95.5 268.3 L99.5 268.3 L103.5 268.3 L107.5 268.3 L111.5 268.3 L115.5 268.3 L119.5 268.3 L123.5 268.3 L127.5 268.3 L131.5 268.3 L135.5 268.3 L139.5 268.3 L143.5 268.3 L147.5 268.3 L151.5 268.3 L155.5 268.3 L159.5 268.3 L163.5 268.3 L167.5 268.2 L171.5 268.2 L175.5 268.2 L179.5 268.2 L183.5 268.2 L187.5 268.2 L191.5 268.2 L195.5 268.2 L199.5 268.2 L203.5 268.2 L207.5 268.2 L211.5 268.2 L215.5 268.2 L219.5 268.2 L223.5 268.2 L227.5 268.2 L231.5 268.2 L235.5 268.2 L239.5 268.2 L243.5 268.2 L247.5 268.2 L251.5 268.2 L255.5 268.1 L259.5 268.1 L263.5 268.1 L267.5 268.1 L271.5 268.1 L275.5 268.1 L279.5 268.1 L283.5 268.1 L287.5 268.1 L291.5 268.1 L295.5 268.1 L299.5 268.1 L303.5 268.1 L307.5 268.1 L311.5 268.1 L315.5 268.1 L319.5 268.1 L323.5 268.1 L327.5 268.1 L331.5 268.1 L335.5 268.1 L339.5 268.0 L343.5 268.0 L347.5 268.0 L351.5 268.0 L355.5 268.0 L359.5 268.0 L363.5 268.0 L367.5 268.0 L371.5 268.0 L375.5 268.0 L379.5 268.0 L381.8 268.0 L381.8 249.5 L382.8 248.8 L383.8 248.1 L384.8 247.5 L385.8 246.8 L386.8 246.2 L387.8 245.6 L388.8 245.0 L389.8 244.5 L390.8 244.0 L391.8 243.6 L392.8 243.2 L393.3 243.0 L393.8 242.8 L394.8 242.5 L395.8 242.2 L396.8 241.9 L397.8 241.6 L398.8 241.4 L399.8 241.1 L400.8 240.8 L401.8 240.6 L402.8 240.4 L403.8 240.2 L404.8 240.0 L405.8 239.8 L406.8 239.6 L407.8 239.4 L408.8 239.3 L409.8 239.1 L410.8 239.0 L411.6 238.9 L411.8 238.9 L412.8 238.8 L413.8 238.6 L414.8 238.5 L415.8 238.4 L416.8 238.3 L417.8 238.2 L418.8 238.1 L419.8 238.1 L420.8 238.0 L421.8 237.9 L422.8 237.8 L423.8 237.7 L424.8 237.6 L425.8 237.6 L426.8 237.5 L427.8 237.4 L428.8 237.3 L429.8 237.3 L430.8 237.2 L431.8 237.1 L432.8 237.1 L433.8 237.0 L434.8 236.9 L435.8 236.9 L436.8 236.8 L437.8 236.8 L438.8 236.7 L439.8 236.7 L440.8 236.6 L441.8 236.5 L442.8 236.5 L443.8 236.4 L444.8 236.4 L445.8 236.3 L446.8 236.3 L447.8 236.2 L448.1 236.2 L448.8 236.2 L449.8 236.1 L450.8 236.1 L451.8 236.0 L452.8 235.9 L453.8 235.9 L454.8 235.8 L455.8 235.8 L456.8 235.7 L457.8 235.7 L458.8 235.6 L459.8 235.6 L460.8 235.5 L461.8 235.5 L462.8 235.4 L463.8 235.4 L464.8 235.3 L465.8 235.3 L466.8 235.3 L467.8 235.2 L468.8 235.2 L469.8 235.2 L470.8 235.1 L471.8 235.1 L472.8 235.1 L473.8 235.0 L474.8 235.0 L475.0 235.0 L475.8 235.0 L476.8 235.0 L477.8 234.9 L478.8 234.9 L479.8 234.9 L480.8 234.9 L481.8 234.8 L482.8 234.8 L483.8 234.8 L484.8 234.8 L485.8 234.8 L486.8 234.7 L487.8 234.7 L488.8 234.7 L489.8 234.7 L490.8 234.6 L491.8 234.6 L492.8 234.6 L493.8 234.6 L494.8 234.6 L495.8 234.5 L496.8 234.5 L497.8 234.5 L498.8 234.5 L499.8 234.5 L500.8 234.4 L501.8 234.4 L502.8 234.4 L503.8 234.4 L504.8 234.4 L505.8 234.4 L506.8 234.3 L507.8 234.3 L508.8 234.3 L509.8 234.3 L510.8 234.3 L511.8 234.3 L512.8 234.2 L513.8 234.2 L514.8 234.2 L515.8 234.2 L516.8 234.2 L517.8 234.2 L518.8 234.2 L519.8 234.1 L520.8 234.1 L521.8 234.1 L522.8 234.1 L523.8 234.1 L524.8 234.1 L525.8 234.1 L526.8 234.1 L527.8 234.0 L528.8 234.0 L529.8 234.0 L530.8 234.0 L531.8 234.0 L532.8 234.0 L533.8 234.0 L534.8 234.0 L535.8 234.0 L536.8 234.0 L537.8 234.0 L538.8 233.9 L539.8 233.9 L540.8 233.9 L541.8 233.9 L542.8 233.9 L543.8 233.9 L544.8 233.9 L545.8 233.9 L546.8 233.9 L547.8 233.9 L548.8 233.9 L549.8 233.9 L550.8 233.9 L551.8 233.9 L552.8 233.9 L553.0 233.9 L553.0 266.6 L556.0 264.5 L557.0 264.3 L561.0 263.7 L565.0 263.2 L569.0 262.8 L573.0 262.6 L577.0 262.5 L578.8 262.5" fill="none" stroke="#f51d1d" stroke-width="2.6" stroke-linejoin="round"/>
<path d="M722.0 268.0 L726.0 268.0 L730.0 268.0 L734.0 268.0 L734.0 268.0 L734.2 249.0 L734.5 236.8 L734.8 226.7 L735.0 218.0 L735.2 210.3 L735.5 203.5 L735.8 197.3 L736.0 191.8 L736.2 186.7 L736.5 182.0 L736.8 177.8 L737.0 173.9 L737.2 170.3 L737.5 167.0 L737.8 164.0 L738.0 161.2 L738.2 158.6 L738.5 156.2 L738.8 154.0 L739.0 152.0 L739.2 150.0 L739.5 148.3 L739.8 146.6 L740.0 145.1 L740.2 143.7 L740.5 142.4 L740.8 141.2 L741.0 140.0 L741.2 139.0 L741.5 138.0 L741.8 137.1 L742.0 136.2 L742.2 135.4 L742.5 134.6 L742.8 133.9 L743.0 133.3 L743.2 132.7 L743.5 132.1 L743.8 131.6 L744.0 131.1 L744.2 130.6 L744.5 130.2 L744.8 129.7 L745.0 129.4 L745.2 129.0 L745.5 128.6 L745.8 128.3 L746.0 128.0 L746.2 127.7 L746.5 127.5 L746.8 127.2 L747.0 127.0 L747.2 126.7 L747.5 126.5 L747.8 126.3 L748.0 126.1 L748.2 125.9 L748.5 125.7 L748.8 125.6 L749.0 125.4 L749.2 125.3 L749.5 125.1 L749.8 125.0 L750.0 124.8 L750.2 124.7 L750.5 124.6 L750.8 124.5 L751.0 124.4 L751.2 124.2 L751.5 124.1 L751.8 124.0 L752.0 123.9 L752.2 123.8 L752.5 123.8 L752.8 123.7 L753.0 123.6 L753.2 123.5 L753.5 123.4 L753.8 123.3 L754.0 123.3 L755.0 123.0 L756.0 122.7 L757.0 122.4 L758.0 122.2 L759.0 122.0 L760.0 121.8 L761.0 121.6 L762.0 121.4 L763.0 121.2 L764.0 121.0 L765.0 120.9 L766.0 120.7 L767.0 120.5 L768.0 120.4 L769.0 120.2 L770.0 120.1 L771.0 119.9 L772.0 119.8 L773.0 119.6 L774.0 119.5 L775.0 119.4 L776.0 119.2 L777.0 119.1 L778.0 119.0 L779.0 118.9 L780.0 118.7 L781.0 118.6 L782.0 118.5 L783.0 118.4 L784.0 118.3 L785.0 118.2 L786.0 118.1 L787.0 118.0 L788.0 117.9 L789.0 117.8 L790.0 117.7 L791.0 117.6 L792.0 117.6 L793.0 117.5 L794.0 117.4 L797.0 117.2 L800.0 117.0 L803.0 116.8 L806.0 116.6 L809.0 116.5 L812.0 116.3 L815.0 116.2 L818.0 116.1 L821.0 116.0 L824.0 115.9 L827.0 115.8 L830.0 115.7 L833.0 115.7 L836.0 115.6 L839.0 115.6 L842.0 115.6 L845.0 115.5 L848.0 115.5 L851.0 115.5 L854.0 115.5 L857.0 115.5 L860.0 115.5 L863.0 115.5 L866.0 115.5 L869.0 115.6 L872.0 115.6 L875.0 115.6 L878.0 115.7 L881.0 115.7 L884.0 115.7 L887.0 115.8 L890.0 115.8 L893.0 115.9 L896.0 115.9 L899.0 116.0 L902.0 116.0 L905.0 116.1 L908.0 116.2 L911.0 116.2 L914.0 116.3 L917.0 116.4 L920.0 116.4 L923.0 116.5 L926.0 116.6 L929.0 116.7 L932.0 116.7 L935.0 116.8 L938.0 116.9 L941.0 117.0 L944.0 117.0 L947.0 117.1 L950.0 117.2 L953.0 117.3 L956.0 117.4 L959.0 117.5 L962.0 117.5 L965.0 117.6 L968.0 117.7 L971.0 117.8 L974.0 117.9 L977.0 118.0 L980.0 118.1 L983.0 118.2 L986.0 118.2 L989.0 118.3 L992.0 118.4 L995.0 118.5 L998.0 118.6 L1001.0 118.7 L1004.0 118.8 L1007.0 118.9 L1010.0 119.0 L1013.0 119.1 L1016.0 119.2 L1019.0 119.3 L1022.0 119.3 L1025.0 119.4 L1028.0 119.5 L1031.0 119.6 L1034.0 119.7 L1037.0 119.8 L1040.0 119.9 L1043.0 120.0 L1046.0 120.1 L1049.0 120.2 L1052.0 120.3 L1055.0 120.4 L1058.0 120.5 L1061.0 120.6 L1064.0 120.7 L1067.0 120.8 L1070.0 120.8 L1073.0 120.9 L1076.0 121.0 L1079.0 121.1" fill="none" stroke="#111" stroke-width="2.6" stroke-linejoin="round"/>
<path d="M1079.0 121.1 L1079.0 226.0 L1079.5 221.1 L1080.0 217.1 L1080.5 214.3 L1081.0 212.6 L1081.5 211.6 L1082.0 211.0 L1082.5 210.6 L1083.0 210.2 L1083.5 209.9 L1084.0 209.7 L1084.5 209.5 L1085.0 209.3 L1085.5 209.1 L1086.0 209.0 L1086.5 208.9 L1087.0 208.8 L1087.5 208.7 L1088.0 208.7 L1088.5 208.6 L1089.0 208.6 L1089.5 208.6 L1090.0 208.6 L1090.5 208.6 L1091.0 208.6 L1091.5 208.6 L1092.0 208.6 L1092.5 208.7 L1093.0 208.7 L1093.5 208.8 L1094.0 208.8 L1094.5 208.9 L1095.0 209.0 L1095.5 209.0 L1096.0 209.1 L1096.5 209.2 L1097.0 209.3 L1097.5 209.3 L1098.0 209.4 L1098.5 209.5 L1099.0 209.6 L1101.0 210.1 L1103.0 210.6 L1105.0 211.2 L1107.0 211.8 L1109.0 212.5 L1111.0 213.1 L1113.0 213.7 L1115.0 214.3 L1117.0 214.9 L1119.0 215.4 L1121.0 216.0 L1123.0 216.5 L1125.0 216.9 L1127.0 217.4 L1129.0 217.8 L1131.0 218.1 L1133.0 218.5 L1135.0 218.8 L1137.0 219.1 L1139.0 219.4 L1141.0 219.7 L1143.0 219.9 L1145.0 220.1 L1147.0 220.4 L1149.0 220.6 L1151.0 220.8 L1153.0 221.0 L1155.0 221.2 L1157.0 221.4 L1159.0 221.5 L1161.0 221.7 L1163.0 221.9 L1165.0 222.0 L1167.0 222.2 L1169.0 222.3 L1171.0 222.5 L1173.0 222.6 L1175.0 222.7 L1177.0 222.9 L1179.0 223.0 L1181.0 223.1 L1183.0 223.2 L1185.0 223.3 L1187.0 223.4 L1189.0 223.5 L1191.0 223.6 L1193.0 223.7 L1195.0 223.8 L1197.0 223.9 L1199.0 224.0 L1201.0 224.1 L1203.0 224.2 L1205.0 224.3 L1207.0 224.4 L1209.0 224.5 L1211.0 224.5 L1213.0 224.6 L1215.0 224.7 L1217.0 224.8 L1219.0 224.8 L1221.0 224.9 L1223.0 225.0 L1225.0 225.0 L1227.0 225.1 L1229.0 225.2 L1231.0 225.2 L1233.0 225.3 L1235.0 225.3 L1237.0 225.4 L1239.0 225.4 L1241.0 225.5 L1243.0 225.5 L1245.0 225.6 L1247.0 225.6 L1249.0 225.7 L1250.0 225.7" fill="none" stroke="#111" stroke-width="2.0" stroke-linejoin="round"/>
<path d="M1250.0 225.7 L1250.0 277.2 L1254.0 275.7 L1255.0 275.5 L1258.0 275.2 L1262.0 274.8 L1266.0 274.6 L1270.0 274.4 L1274.0 274.3 L1275.6 274.3" fill="none" stroke="#111" stroke-width="2.6" stroke-linejoin="round"/>
<path d="M734.0 268.0 L734.1 268.0 L734.0 268.0 L734.2 261.9 L734.5 255.8 L734.8 249.9 L735.0 244.3 L735.2 239.0 L735.5 233.9 L735.8 229.1 L736.0 224.5 L736.2 220.2 L736.5 216.1 L736.8 212.3 L737.0 208.6 L737.2 205.2 L737.5 201.9 L737.8 198.8 L738.0 195.9 L738.2 193.1 L738.5 190.5 L738.8 188.1 L739.0 185.8 L739.2 183.6 L739.5 181.5 L739.8 179.5 L740.0 177.7 L740.2 175.9 L740.5 174.3 L740.8 172.7 L741.0 171.2 L741.2 169.8 L741.5 168.5 L741.8 167.2 L742.0 166.0 L742.2 164.9 L742.5 163.9 L742.8 162.8 L743.0 161.9 L743.2 161.0 L743.5 160.1 L743.8 159.3 L744.0 158.5 L744.2 157.8 L744.5 157.1 L744.8 156.4 L745.0 155.8 L745.2 155.2 L745.5 154.6 L745.8 154.1 L746.0 153.5 L746.2 153.0 L746.5 152.6 L746.8 152.1 L747.0 151.7 L747.2 151.3 L747.5 150.9 L747.8 150.5 L748.0 150.2 L748.2 149.8 L748.5 149.5 L748.8 149.2 L749.0 148.9 L749.2 148.6 L749.5 148.3 L749.8 148.0 L750.0 147.8 L750.2 147.5 L750.5 147.3 L750.8 147.1 L751.0 146.8 L751.2 146.6 L751.5 146.4 L751.8 146.2 L752.0 146.0 L752.2 145.8 L752.5 145.6 L752.8 145.5 L753.0 145.3 L753.2 145.1 L753.5 145.0 L753.8 144.8 L754.0 144.7 L755.0 144.1 L756.0 143.6 L757.0 143.1 L758.0 142.6 L759.0 142.2 L760.0 141.9 L761.0 141.5 L762.0 141.1 L763.0 140.8 L764.0 140.5 L765.0 140.2 L766.0 139.9 L767.0 139.7 L768.0 139.4 L769.0 139.1 L770.0 138.9 L771.0 138.7 L772.0 138.4 L773.0 138.2 L774.0 138.0 L775.0 137.8 L776.0 137.6 L777.0 137.4 L778.0 137.2 L779.0 137.0 L780.0 136.8 L781.0 136.7 L782.0 136.5 L783.0 136.4 L784.0 136.2 L785.0 136.0 L786.0 135.9 L787.0 135.8 L788.0 135.6 L789.0 135.5 L790.0 135.4 L791.0 135.2 L792.0 135.1 L793.0 135.0 L794.0 134.9 L797.0 134.6 L800.0 134.3 L803.0 134.1 L806.0 133.8 L809.0 133.6 L812.0 133.5 L815.0 133.3 L818.0 133.1 L821.0 133.0 L824.0 132.9 L827.0 132.8 L830.0 132.7 L833.0 132.6 L836.0 132.6 L839.0 132.5 L842.0 132.5 L845.0 132.4 L848.0 132.4 L851.0 132.4 L854.0 132.4 L857.0 132.3 L860.0 132.3 L863.0 132.3 L866.0 132.3 L869.0 132.3 L872.0 132.4 L875.0 132.4 L878.0 132.4 L881.0 132.4 L884.0 132.4 L887.0 132.4 L890.0 132.5 L893.0 132.5 L896.0 132.5 L899.0 132.6 L902.0 132.6 L905.0 132.6 L908.0 132.7 L911.0 132.7 L914.0 132.7 L917.0 132.8 L920.0 132.8 L923.0 132.9 L926.0 132.9 L929.0 132.9 L932.0 133.0 L935.0 133.0 L938.0 133.1 L941.0 133.1 L944.0 133.2 L947.0 133.2 L950.0 133.2 L953.0 133.3 L956.0 133.3 L959.0 133.4 L962.0 133.4 L965.0 133.5 L968.0 133.5 L971.0 133.6 L974.0 133.6 L977.0 133.7 L980.0 133.7 L983.0 133.8 L986.0 133.8 L989.0 133.9 L992.0 133.9 L995.0 134.0 L998.0 134.0 L1001.0 134.1 L1004.0 134.1 L1007.0 134.2 L1010.0 134.2 L1013.0 134.3 L1016.0 134.3 L1019.0 134.4 L1022.0 134.4 L1025.0 134.4 L1028.0 134.5 L1031.0 134.5 L1034.0 134.6 L1037.0 134.6 L1040.0 134.7 L1043.0 134.7 L1046.0 134.8 L1049.0 134.8 L1052.0 134.9 L1055.0 134.9 L1058.0 135.0 L1061.0 135.0 L1064.0 135.1 L1067.0 135.1 L1070.0 135.2 L1073.0 135.2 L1076.0 135.3 L1079.0 135.3" fill="none" stroke="#111" stroke-width="2.6" stroke-linejoin="round"/>
<path d="M1079.0 135.3 L1079.0 226.0 L1079.5 222.9 L1080.0 220.0 L1080.5 217.6 L1081.0 215.8 L1081.5 214.5 L1082.0 213.5 L1082.5 212.7 L1083.0 212.1 L1083.5 211.5 L1084.0 211.1 L1084.5 210.7 L1085.0 210.4 L1085.5 210.1 L1086.0 209.9 L1086.5 209.7 L1087.0 209.5 L1087.5 209.4 L1088.0 209.3 L1088.5 209.2 L1089.0 209.1 L1089.5 209.0 L1090.0 209.0 L1090.5 208.9 L1091.0 208.9 L1091.5 208.9 L1092.0 208.9 L1092.5 208.9 L1093.0 209.0 L1093.5 209.0 L1094.0 209.1 L1094.5 209.1 L1095.0 209.2 L1095.5 209.3 L1096.0 209.3 L1096.5 209.4 L1097.0 209.5 L1097.5 209.5 L1098.0 209.6 L1098.5 209.7 L1099.0 209.8 L1101.0 210.2 L1103.0 210.7 L1105.0 211.1 L1107.0 211.6 L1109.0 212.1 L1111.0 212.6 L1113.0 213.0 L1115.0 213.5 L1117.0 213.9 L1119.0 214.3 L1121.0 214.8 L1123.0 215.2 L1125.0 215.6 L1127.0 216.0 L1129.0 216.5 L1131.0 216.9 L1133.0 217.3 L1135.0 217.7 L1137.0 218.1 L1139.0 218.4 L1141.0 218.8 L1143.0 219.2 L1145.0 219.5 L1147.0 219.8 L1149.0 220.2 L1151.0 220.5 L1153.0 220.8 L1155.0 221.1 L1157.0 221.4 L1159.0 221.7 L1161.0 222.0 L1163.0 222.2 L1165.0 222.5 L1167.0 222.7 L1169.0 222.9 L1171.0 223.0 L1173.0 223.2 L1175.0 223.3 L1177.0 223.5 L1179.0 223.6 L1181.0 223.7 L1183.0 223.8 L1185.0 223.9 L1187.0 224.0 L1189.0 224.1 L1191.0 224.2 L1193.0 224.3 L1195.0 224.4 L1197.0 224.5 L1199.0 224.6 L1201.0 224.7 L1203.0 224.7 L1205.0 224.8 L1207.0 224.9 L1209.0 225.0 L1211.0 225.0 L1213.0 225.1 L1215.0 225.2 L1217.0 225.2 L1219.0 225.3 L1221.0 225.4 L1223.0 225.4 L1225.0 225.5 L1227.0 225.6 L1229.0 225.6 L1231.0 225.7 L1233.0 225.7 L1235.0 225.8 L1237.0 225.8 L1239.0 225.9 L1241.0 225.9 L1243.0 226.0 L1245.0 226.0 L1247.0 226.0 L1249.0 226.1 L1250.0 226.1" fill="none" stroke="#111" stroke-width="2.0" stroke-linejoin="round"/>
<path d="M1250.0 226.1 L1250.0 272.0 L1254.0 271.1 L1255.0 271.0 L1258.0 270.7 L1262.0 270.2 L1266.0 269.9 L1270.0 269.6 L1274.0 269.5 L1275.6 269.5" fill="none" stroke="#111" stroke-width="2.6" stroke-linejoin="round"/>
<path d="M734.0 268.0 L734.1 268.0 L734.0 268.0 L734.2 238.9 L734.5 232.3 L734.8 229.0 L735.0 227.0 L735.2 225.5 L735.5 224.2 L735.8 223.1 L736.0 222.0 L736.2 221.0 L736.5 219.9 L736.8 218.9 L737.0 217.9 L737.2 216.9 L737.5 216.0 L737.8 215.0 L738.0 214.1 L738.2 213.2 L738.5 212.3 L738.8 211.4 L739.0 210.6 L739.2 209.7 L739.5 208.9 L739.8 208.0 L740.0 207.2 L740.2 206.4 L740.5 205.6 L740.8 204.8 L741.0 204.1 L741.2 203.3 L741.5 202.6 L741.8 201.9 L742.0 201.2 L742.2 200.4 L742.5 199.8 L742.8 199.1 L743.0 198.4 L743.2 197.7 L743.5 197.1 L743.8 196.5 L744.0 195.8 L744.2 195.2 L744.5 194.6 L744.8 194.0 L745.0 193.4 L745.2 192.8 L745.5 192.3 L745.8 191.7 L746.0 191.2 L746.2 190.6 L746.5 190.1 L746.8 189.5 L747.0 189.0 L747.2 188.5 L747.5 188.0 L747.8 187.5 L748.0 187.0 L748.2 186.6 L748.5 186.1 L748.8 185.6 L749.0 185.2 L749.2 184.7 L749.5 184.3 L749.8 183.9 L750.0 183.4 L750.2 183.0 L750.5 182.6 L750.8 182.2 L751.0 181.8 L751.2 181.4 L751.5 181.0 L751.8 180.6 L752.0 180.3 L752.2 179.9 L752.5 179.5 L752.8 179.2 L753.0 178.8 L753.2 178.5 L753.5 178.1 L753.8 177.8 L754.0 177.5 L755.0 176.2 L756.0 175.0 L757.0 173.9 L758.0 172.9 L759.0 171.9 L760.0 171.0 L761.0 170.1 L762.0 169.3 L763.0 168.6 L764.0 167.9 L765.0 167.2 L766.0 166.6 L767.0 166.0 L768.0 165.5 L769.0 165.0 L770.0 164.5 L771.0 164.0 L772.0 163.6 L773.0 163.2 L774.0 162.8 L775.0 162.5 L776.0 162.1 L777.0 161.8 L778.0 161.6 L779.0 161.3 L780.0 161.0 L781.0 160.8 L782.0 160.6 L783.0 160.3 L784.0 160.2 L785.0 160.0 L786.0 159.8 L787.0 159.6 L788.0 159.5 L789.0 159.3 L790.0 159.2 L791.0 159.1 L792.0 158.9 L793.0 158.8 L794.0 158.7 L797.0 158.4 L800.0 158.2 L803.0 158.0 L806.0 157.8 L809.0 157.7 L812.0 157.5 L815.0 157.4 L818.0 157.3 L821.0 157.3 L824.0 157.2 L827.0 157.1 L830.0 157.1 L833.0 157.0 L836.0 157.0 L839.0 156.9 L842.0 156.9 L845.0 156.8 L848.0 156.8 L851.0 156.8 L854.0 156.7 L857.0 156.7 L860.0 156.7 L863.0 156.7 L866.0 156.6 L869.0 156.6 L872.0 156.6 L875.0 156.5 L878.0 156.5 L881.0 156.5 L884.0 156.5 L887.0 156.4 L890.0 156.4 L893.0 156.4 L896.0 156.3 L899.0 156.3 L902.0 156.3 L905.0 156.3 L908.0 156.2 L911.0 156.2 L914.0 156.2 L917.0 156.2 L920.0 156.1 L923.0 156.1 L926.0 156.1 L929.0 156.0 L932.0 156.0 L935.0 156.0 L938.0 156.0 L941.0 155.9 L944.0 155.9 L947.0 155.9 L950.0 155.9 L953.0 155.8 L956.0 155.8 L959.0 155.8 L962.0 155.8 L965.0 155.7 L968.0 155.7 L971.0 155.7 L974.0 155.6 L977.0 155.6 L980.0 155.6 L983.0 155.6 L986.0 155.5 L989.0 155.5 L992.0 155.5 L995.0 155.5 L998.0 155.4 L1001.0 155.4 L1004.0 155.4 L1007.0 155.4 L1010.0 155.3 L1013.0 155.3 L1016.0 155.3 L1019.0 155.3 L1022.0 155.2 L1025.0 155.2 L1028.0 155.2 L1031.0 155.1 L1034.0 155.1 L1037.0 155.1 L1040.0 155.1 L1043.0 155.0 L1046.0 155.0 L1049.0 155.0 L1052.0 155.0 L1055.0 154.9 L1058.0 154.9 L1061.0 154.9 L1064.0 154.9 L1067.0 154.8 L1070.0 154.8 L1073.0 154.8 L1076.0 154.7 L1079.0 154.7" fill="none" stroke="#111" stroke-width="2.6" stroke-linejoin="round"/>
<path d="M1079.0 154.7 L1079.0 226.0 L1079.5 224.4 L1080.0 222.9 L1080.5 221.5 L1081.0 220.2 L1081.5 219.1 L1082.0 218.2 L1082.5 217.3 L1083.0 216.5 L1083.5 215.8 L1084.0 215.1 L1084.5 214.5 L1085.0 213.9 L1085.5 213.4 L1086.0 212.9 L1086.5 212.5 L1087.0 212.2 L1087.5 211.9 L1088.0 211.6 L1088.5 211.3 L1089.0 211.1 L1089.5 210.9 L1090.0 210.8 L1090.5 210.6 L1091.0 210.5 L1091.5 210.4 L1092.0 210.4 L1092.5 210.3 L1093.0 210.3 L1093.5 210.3 L1094.0 210.3 L1094.5 210.3 L1095.0 210.3 L1095.5 210.3 L1096.0 210.4 L1096.5 210.4 L1097.0 210.4 L1097.5 210.5 L1098.0 210.5 L1098.5 210.6 L1099.0 210.7 L1101.0 211.0 L1103.0 211.5 L1105.0 212.0 L1107.0 212.5 L1109.0 213.0 L1111.0 213.5 L1113.0 213.9 L1115.0 214.4 L1117.0 214.8 L1119.0 215.3 L1121.0 215.7 L1123.0 216.1 L1125.0 216.5 L1127.0 216.9 L1129.0 217.3 L1131.0 217.7 L1133.0 218.1 L1135.0 218.5 L1137.0 218.9 L1139.0 219.3 L1141.0 219.6 L1143.0 219.9 L1145.0 220.3 L1147.0 220.6 L1149.0 220.9 L1151.0 221.2 L1153.0 221.5 L1155.0 221.8 L1157.0 222.0 L1159.0 222.3 L1161.0 222.6 L1163.0 222.8 L1165.0 223.0 L1167.0 223.2 L1169.0 223.4 L1171.0 223.5 L1173.0 223.7 L1175.0 223.8 L1177.0 224.0 L1179.0 224.1 L1181.0 224.2 L1183.0 224.3 L1185.0 224.4 L1187.0 224.5 L1189.0 224.6 L1191.0 224.7 L1193.0 224.8 L1195.0 224.9 L1197.0 225.0 L1199.0 225.1 L1201.0 225.2 L1203.0 225.2 L1205.0 225.3 L1207.0 225.4 L1209.0 225.5 L1211.0 225.5 L1213.0 225.6 L1215.0 225.7 L1217.0 225.7 L1219.0 225.8 L1221.0 225.8 L1223.0 225.9 L1225.0 226.0 L1227.0 226.0 L1229.0 226.1 L1231.0 226.1 L1233.0 226.2 L1235.0 226.2 L1237.0 226.3 L1239.0 226.3 L1241.0 226.3 L1243.0 226.4 L1245.0 226.4 L1247.0 226.5 L1249.0 226.5 L1250.0 226.5" fill="none" stroke="#111" stroke-width="2.0" stroke-linejoin="round"/>
<path d="M1250.0 226.5 L1250.0 274.8 L1254.0 273.8 L1255.0 273.6 L1258.0 273.3 L1262.0 272.9 L1266.0 272.5 L1270.0 272.3 L1274.0 272.2 L1275.6 272.2" fill="none" stroke="#111" stroke-width="2.6" stroke-linejoin="round"/>
<path d="M734.0 268.0 L734.1 268.0 L734.0 268.0 L734.5 246.0 L735.0 242.5 L735.5 240.5 L736.0 239.0 L736.5 237.8 L737.0 236.7 L737.5 235.8 L738.0 234.9 L738.5 234.1 L739.0 233.4 L739.5 232.6 L740.0 231.9 L740.5 231.2 L741.0 230.6 L741.5 229.9 L742.0 229.3 L742.5 228.6 L743.0 228.0 L743.5 227.5 L744.0 226.9 L744.5 226.3 L745.0 225.8 L745.5 225.3 L746.0 224.8 L746.5 224.2 L747.0 223.8 L747.5 223.3 L748.0 222.8 L748.5 222.3 L749.0 221.9 L749.5 221.5 L750.0 221.0 L750.5 220.6 L751.0 220.2 L751.5 219.7 L752.0 219.3 L752.5 218.9 L753.0 218.5 L753.5 218.1 L754.0 217.7 L756.0 216.3 L758.0 214.9 L760.0 213.7 L762.0 212.6 L764.0 211.6 L766.0 210.7 L768.0 209.8 L770.0 209.0 L772.0 208.2 L774.0 207.5 L776.0 206.9 L778.0 206.3 L780.0 205.7 L782.0 205.1 L784.0 204.6 L786.0 204.1 L788.0 203.6 L790.0 203.1 L792.0 202.7 L794.0 202.2 L796.0 201.8 L798.0 201.4 L800.0 201.1 L802.0 200.7 L804.0 200.3 L806.0 200.0 L808.0 199.7 L810.0 199.4 L812.0 199.1 L814.0 198.8 L816.0 198.5 L818.0 198.2 L820.0 198.0 L822.0 197.7 L824.0 197.5 L826.0 197.2 L828.0 197.0 L830.0 196.8 L832.0 196.6 L834.0 196.4 L836.0 196.2 L838.0 196.0 L840.0 195.8 L842.0 195.6 L844.0 195.5 L846.0 195.3 L848.0 195.2 L850.0 195.0 L852.0 194.9 L854.0 194.8 L856.0 194.7 L858.0 194.5 L860.0 194.4 L862.0 194.3 L864.0 194.2 L866.0 194.1 L868.0 194.0 L870.0 193.9 L872.0 193.8 L874.0 193.8 L876.0 193.7 L878.0 193.6 L880.0 193.5 L882.0 193.4 L884.0 193.4 L886.0 193.3 L888.0 193.2 L890.0 193.1 L892.0 193.1 L894.0 193.0 L896.0 192.9 L898.0 192.9 L900.0 192.8 L902.0 192.7 L904.0 192.7 L906.0 192.6 L908.0 192.5 L910.0 192.5 L912.0 192.4 L914.0 192.4 L916.0 192.3 L918.0 192.2 L920.0 192.2 L922.0 192.1 L924.0 192.0 L926.0 192.0 L928.0 191.9 L930.0 191.9 L932.0 191.8 L934.0 191.8 L936.0 191.7 L938.0 191.6 L940.0 191.6 L942.0 191.5 L944.0 191.5 L946.0 191.4 L948.0 191.4 L950.0 191.3 L952.0 191.3 L954.0 191.2 L956.0 191.2 L958.0 191.1 L960.0 191.1 L962.0 191.1 L964.0 191.0 L966.0 191.0 L968.0 190.9 L970.0 190.9 L972.0 190.9 L974.0 190.8 L976.0 190.8 L978.0 190.8 L980.0 190.7 L982.0 190.7 L984.0 190.7 L986.0 190.7 L988.0 190.6 L990.0 190.6 L992.0 190.6 L994.0 190.6 L996.0 190.5 L998.0 190.5 L1000.0 190.5 L1002.0 190.5 L1004.0 190.5 L1006.0 190.4 L1008.0 190.4 L1010.0 190.4 L1012.0 190.4 L1014.0 190.4 L1016.0 190.3 L1018.0 190.3 L1020.0 190.3 L1022.0 190.3 L1024.0 190.3 L1026.0 190.3 L1028.0 190.2 L1030.0 190.2 L1032.0 190.2 L1034.0 190.2 L1036.0 190.2 L1038.0 190.2 L1040.0 190.1 L1042.0 190.1 L1044.0 190.1 L1046.0 190.1 L1048.0 190.1 L1050.0 190.1 L1052.0 190.1 L1054.0 190.1 L1056.0 190.1 L1058.0 190.0 L1060.0 190.0 L1062.0 190.0 L1064.0 190.0 L1066.0 190.0 L1068.0 190.0 L1070.0 190.0 L1072.0 190.0 L1074.0 190.0 L1076.0 190.0 L1078.0 190.0 L1079.0 190.0" fill="none" stroke="#111" stroke-width="2.6" stroke-linejoin="round"/>
<path d="M1079.0 190.0 L1079.0 226.0 L1079.5 223.6 L1080.0 221.6 L1080.5 220.2 L1081.0 219.2 L1081.5 218.4 L1082.0 217.8 L1082.5 217.3 L1083.0 217.0 L1083.5 216.7 L1084.0 216.4 L1084.5 216.2 L1085.0 216.0 L1085.5 215.8 L1086.0 215.7 L1086.5 215.6 L1087.0 215.5 L1087.5 215.5 L1088.0 215.4 L1088.5 215.4 L1089.0 215.4 L1089.5 215.4 L1090.0 215.5 L1090.5 215.5 L1091.0 215.6 L1091.5 215.7 L1092.0 215.8 L1092.5 215.9 L1093.0 216.1 L1093.5 216.2 L1094.0 216.4 L1094.5 216.5 L1095.0 216.7 L1095.5 216.8 L1096.0 217.0 L1096.5 217.1 L1097.0 217.3 L1097.5 217.4 L1098.0 217.6 L1098.5 217.7 L1099.0 217.9 L1101.0 218.5 L1103.0 219.2 L1105.0 219.7 L1107.0 220.2 L1109.0 220.7 L1111.0 221.2 L1113.0 221.6 L1115.0 221.9 L1117.0 222.3 L1119.0 222.7 L1121.0 223.1 L1123.0 223.4 L1125.0 223.8 L1127.0 224.1 L1129.0 224.4 L1131.0 224.8 L1133.0 225.1 L1135.0 225.3 L1137.0 225.6 L1139.0 225.9 L1141.0 226.1 L1143.0 226.4 L1145.0 226.6 L1147.0 226.8 L1149.0 227.0 L1151.0 227.2 L1153.0 227.4 L1155.0 227.6 L1157.0 227.8 L1159.0 228.0 L1161.0 228.1 L1163.0 228.3 L1165.0 228.4 L1167.0 228.6 L1169.0 228.7 L1171.0 228.8 L1173.0 229.0 L1175.0 229.1 L1177.0 229.2 L1179.0 229.3 L1181.0 229.4 L1183.0 229.5 L1185.0 229.6 L1187.0 229.7 L1189.0 229.8 L1191.0 229.9 L1193.0 229.9 L1195.0 230.0 L1197.0 230.1 L1199.0 230.2 L1201.0 230.2 L1203.0 230.3 L1205.0 230.4 L1207.0 230.4 L1209.0 230.5 L1211.0 230.5 L1213.0 230.6 L1215.0 230.6 L1217.0 230.7 L1219.0 230.7 L1221.0 230.8 L1223.0 230.8 L1225.0 230.8 L1227.0 230.9 L1229.0 230.9 L1231.0 231.0 L1233.0 231.0 L1235.0 231.0 L1237.0 231.1 L1239.0 231.1 L1241.0 231.1 L1243.0 231.1 L1245.0 231.2 L1247.0 231.2 L1249.0 231.2 L1250.0 231.2" fill="none" stroke="#111" stroke-width="2.0" stroke-linejoin="round"/>
<path d="M734.0 268.0 L734.1 268.0 L734.0 268.0 L734.5 255.3 L735.0 253.4 L735.5 252.7 L736.0 252.3 L736.5 251.9 L737.0 251.7 L737.5 251.4 L738.0 251.2 L738.5 251.0 L739.0 250.9 L739.5 250.7 L740.0 250.5 L740.5 250.3 L741.0 250.1 L741.5 249.9 L742.0 249.7 L742.5 249.5 L743.0 249.3 L743.5 249.2 L744.0 249.0 L744.5 248.8 L745.0 248.6 L745.5 248.5 L746.0 248.3 L746.5 248.1 L747.0 248.0 L747.5 247.8 L748.0 247.7 L748.5 247.5 L749.0 247.4 L749.5 247.2 L750.0 247.1 L750.5 246.9 L751.0 246.8 L751.5 246.7 L752.0 246.5 L752.5 246.4 L753.0 246.2 L753.5 246.1 L754.0 246.0 L756.0 245.5 L758.0 245.0 L760.0 244.6 L762.0 244.1 L764.0 243.8 L766.0 243.4 L768.0 243.0 L770.0 242.7 L772.0 242.4 L774.0 242.1 L776.0 241.9 L778.0 241.6 L780.0 241.4 L782.0 241.2 L784.0 241.0 L786.0 240.9 L788.0 240.7 L790.0 240.6 L792.0 240.5 L794.0 240.4 L796.0 240.2 L798.0 240.1 L800.0 240.0 L802.0 240.0 L804.0 239.9 L806.0 239.8 L808.0 239.7 L810.0 239.7 L812.0 239.6 L814.0 239.6 L816.0 239.5 L818.0 239.5 L820.0 239.5 L822.0 239.4 L824.0 239.4 L826.0 239.4 L828.0 239.4 L830.0 239.3 L832.0 239.3 L834.0 239.3 L836.0 239.3 L838.0 239.2 L840.0 239.2 L842.0 239.2 L844.0 239.2 L846.0 239.1 L848.0 239.1 L850.0 239.1 L852.0 239.1 L854.0 239.0 L856.0 239.0 L858.0 239.0 L860.0 239.0 L862.0 238.9 L864.0 238.9 L866.0 238.9 L868.0 238.8 L870.0 238.8 L872.0 238.8 L874.0 238.7 L876.0 238.7 L878.0 238.7 L880.0 238.6 L882.0 238.6 L884.0 238.6 L886.0 238.5 L888.0 238.5 L890.0 238.5 L892.0 238.4 L894.0 238.4 L896.0 238.4 L898.0 238.3 L900.0 238.3 L902.0 238.3 L904.0 238.2 L906.0 238.2 L908.0 238.2 L910.0 238.1 L912.0 238.1 L914.0 238.1 L916.0 238.0 L918.0 238.0 L920.0 238.0 L922.0 237.9 L924.0 237.9 L926.0 237.9 L928.0 237.8 L930.0 237.8 L932.0 237.8 L934.0 237.7 L936.0 237.7 L938.0 237.7 L940.0 237.6 L942.0 237.6 L944.0 237.6 L946.0 237.5 L948.0 237.5 L950.0 237.5 L952.0 237.5 L954.0 237.4 L956.0 237.4 L958.0 237.4 L960.0 237.3 L962.0 237.3 L964.0 237.3 L966.0 237.3 L968.0 237.2 L970.0 237.2 L972.0 237.2 L974.0 237.2 L976.0 237.1 L978.0 237.1 L980.0 237.1 L982.0 237.1 L984.0 237.1 L986.0 237.0 L988.0 237.0 L990.0 237.0 L992.0 237.0 L994.0 237.0 L996.0 236.9 L998.0 236.9 L1000.0 236.9 L1002.0 236.9 L1004.0 236.9 L1006.0 236.9 L1008.0 236.8 L1010.0 236.8 L1012.0 236.8 L1014.0 236.8 L1016.0 236.8 L1018.0 236.8 L1020.0 236.7 L1022.0 236.7 L1024.0 236.7 L1026.0 236.7 L1028.0 236.7 L1030.0 236.7 L1032.0 236.7 L1034.0 236.6 L1036.0 236.6 L1038.0 236.6 L1040.0 236.6 L1042.0 236.6 L1044.0 236.6 L1046.0 236.6 L1048.0 236.6 L1050.0 236.5 L1052.0 236.5 L1054.0 236.5 L1056.0 236.5 L1058.0 236.5 L1060.0 236.5 L1062.0 236.5 L1064.0 236.5 L1066.0 236.5 L1068.0 236.4 L1070.0 236.4 L1072.0 236.4 L1074.0 236.4 L1076.0 236.4 L1078.0 236.4 L1079.0 236.4 L1079.0 237.0 L1083.0 236.9 L1087.0 236.8 L1091.0 236.7 L1095.0 236.5 L1099.0 236.4 L1103.0 236.3 L1107.0 236.3 L1111.0 236.2 L1115.0 236.1 L1119.0 236.0 L1123.0 235.9 L1127.0 235.9 L1131.0 235.8 L1135.0 235.7 L1139.0 235.7 L1143.0 235.6 L1147.0 235.6 L1151.0 235.6 L1155.0 235.5 L1159.0 235.5 L1163.0 235.5 L1167.0 235.5 L1170.0 235.5 L1171.0 235.5 L1175.0 235.5 L1179.0 235.5 L1183.0 235.5 L1187.0 235.5 L1191.0 235.5 L1195.0 235.6 L1199.0 235.6 L1203.0 235.6 L1207.0 235.6 L1211.0 235.7 L1215.0 235.7 L1219.0 235.8 L1223.0 235.8 L1227.0 235.9 L1231.0 235.9 L1235.0 236.0 L1239.0 236.1 L1243.0 236.2 L1247.0 236.2 L1250.0 236.3" fill="none" stroke="#111" stroke-width="2.6" stroke-linejoin="round"/>
<path d="M734.0 268.0 L734.1 268.0 L734.0 268.0 L735.0 260.0 L738.0 260.0 L742.0 260.0 L746.0 259.9 L750.0 259.9 L754.0 259.9 L758.0 259.9 L762.0 259.8 L766.0 259.8 L770.0 259.8 L774.0 259.8 L778.0 259.8 L782.0 259.8 L786.0 259.7 L790.0 259.7 L794.0 259.7 L798.0 259.7 L802.0 259.7 L806.0 259.7 L810.0 259.6 L814.0 259.6 L818.0 259.6 L822.0 259.6 L826.0 259.6 L830.0 259.6 L834.0 259.6 L838.0 259.5 L842.0 259.5 L846.0 259.5 L850.0 259.5 L854.0 259.5 L858.0 259.5 L862.0 259.5 L866.0 259.5 L870.0 259.5 L874.0 259.4 L878.0 259.4 L882.0 259.4 L886.0 259.4 L890.0 259.4 L894.0 259.4 L898.0 259.4 L902.0 259.4 L906.0 259.4 L910.0 259.4 L914.0 259.4 L918.0 259.4 L922.0 259.4 L926.0 259.4 L930.0 259.4 L934.0 259.4 L938.0 259.3 L942.0 259.3 L946.0 259.3 L950.0 259.3 L954.0 259.3 L958.0 259.3 L962.0 259.3 L966.0 259.3 L970.0 259.3 L974.0 259.3 L978.0 259.3 L982.0 259.3 L986.0 259.3 L990.0 259.3 L994.0 259.3 L998.0 259.3 L1002.0 259.3 L1006.0 259.3 L1010.0 259.3 L1014.0 259.3 L1018.0 259.3 L1022.0 259.3 L1026.0 259.3 L1030.0 259.3 L1034.0 259.3 L1038.0 259.3 L1042.0 259.3 L1046.0 259.3 L1050.0 259.3 L1054.0 259.3 L1058.0 259.3 L1062.0 259.3 L1066.0 259.3 L1070.0 259.3 L1074.0 259.3 L1078.0 259.3 L1079.0 259.3 L1079.0 252.2 L1080.0 251.5 L1081.0 250.9 L1082.0 250.2 L1083.0 249.6 L1084.0 249.0 L1085.0 248.4 L1086.0 247.9 L1087.0 247.5 L1088.0 247.1 L1088.3 247.0 L1089.0 246.8 L1090.0 246.5 L1091.0 246.2 L1092.0 245.9 L1093.0 245.6 L1094.0 245.4 L1095.0 245.1 L1096.0 244.9 L1097.0 244.7 L1098.0 244.5 L1099.0 244.3 L1100.0 244.1 L1101.0 243.9 L1102.0 243.7 L1103.0 243.6 L1104.0 243.4 L1105.0 243.2 L1106.0 243.1 L1106.6 243.0 L1107.0 242.9 L1108.0 242.8 L1109.0 242.6 L1110.0 242.5 L1111.0 242.4 L1112.0 242.2 L1113.0 242.1 L1114.0 242.0 L1115.0 241.8 L1116.0 241.7 L1117.0 241.6 L1118.0 241.5 L1119.0 241.4 L1120.0 241.2 L1121.0 241.1 L1122.0 241.0 L1123.0 240.9 L1124.0 240.8 L1125.0 240.7 L1126.0 240.6 L1127.0 240.5 L1128.0 240.4 L1129.0 240.3 L1130.0 240.2 L1131.0 240.1 L1132.0 240.0 L1133.0 239.9 L1134.0 239.8 L1135.0 239.7 L1136.0 239.6 L1137.0 239.5 L1138.0 239.5 L1139.0 239.4 L1140.0 239.3 L1141.0 239.2 L1142.0 239.1 L1143.0 239.0 L1143.1 239.0 L1144.0 238.9 L1145.0 238.8 L1146.0 238.7 L1147.0 238.7 L1148.0 238.6 L1149.0 238.5 L1150.0 238.4 L1151.0 238.3 L1152.0 238.2 L1153.0 238.1 L1154.0 238.1 L1155.0 238.0 L1156.0 237.9 L1157.0 237.8 L1158.0 237.8 L1159.0 237.7 L1160.0 237.6 L1161.0 237.5 L1162.0 237.5 L1163.0 237.4 L1164.0 237.3 L1165.0 237.3 L1166.0 237.2 L1167.0 237.2 L1168.0 237.1 L1169.0 237.0 L1170.0 237.0 L1171.0 237.0 L1172.0 236.9 L1173.0 236.9 L1174.0 236.8 L1175.0 236.8 L1176.0 236.7 L1177.0 236.7 L1178.0 236.6 L1179.0 236.6 L1180.0 236.5 L1181.0 236.5 L1182.0 236.4 L1183.0 236.4 L1184.0 236.3 L1185.0 236.3 L1186.0 236.3 L1187.0 236.2 L1188.0 236.2 L1189.0 236.1 L1190.0 236.1 L1191.0 236.0 L1192.0 236.0 L1193.0 235.9 L1194.0 235.9 L1195.0 235.9 L1196.0 235.8 L1197.0 235.8 L1198.0 235.7 L1199.0 235.7 L1200.0 235.7 L1201.0 235.6 L1202.0 235.6 L1203.0 235.5 L1204.0 235.5 L1205.0 235.5 L1206.0 235.4 L1207.0 235.4 L1208.0 235.3 L1209.0 235.3 L1210.0 235.3 L1211.0 235.2 L1212.0 235.2 L1213.0 235.2 L1214.0 235.1 L1215.0 235.1 L1216.0 235.1 L1217.0 235.0 L1218.0 235.0 L1219.0 235.0 L1220.0 235.0 L1221.0 234.9 L1222.0 234.9 L1223.0 234.9 L1224.0 234.9 L1225.0 234.8 L1226.0 234.8 L1227.0 234.8 L1228.0 234.8 L1229.0 234.7 L1230.0 234.7 L1231.0 234.7 L1232.0 234.7 L1233.0 234.7 L1234.0 234.6 L1235.0 234.6 L1236.0 234.6 L1237.0 234.6 L1238.0 234.6 L1239.0 234.6 L1240.0 234.6 L1241.0 234.5 L1242.0 234.5 L1243.0 234.5 L1244.0 234.5 L1245.0 234.5 L1246.0 234.5 L1247.0 234.5 L1248.0 234.5 L1249.0 234.5 L1250.0 234.5" fill="none" stroke="#111" stroke-width="2.6" stroke-linejoin="round"/>
<path d="M734.0 268.0 L734.1 268.0 L734.0 268.0 L735.0 265.4 L738.0 265.4 L742.0 265.4 L746.0 265.4 L750.0 265.4 L754.0 265.4 L758.0 265.4 L762.0 265.4 L766.0 265.4 L770.0 265.4 L774.0 265.4 L778.0 265.4 L782.0 265.4 L786.0 265.4 L790.0 265.4 L794.0 265.4 L798.0 265.4 L802.0 265.4 L806.0 265.4 L810.0 265.4 L814.0 265.4 L818.0 265.4 L822.0 265.4 L826.0 265.4 L830.0 265.4 L834.0 265.5 L838.0 265.5 L842.0 265.5 L846.0 265.5 L850.0 265.5 L854.0 265.5 L858.0 265.5 L862.0 265.5 L866.0 265.5 L870.0 265.5 L874.0 265.5 L878.0 265.6 L882.0 265.6 L886.0 265.6 L890.0 265.6 L894.0 265.6 L898.0 265.6 L902.0 265.6 L906.0 265.7 L910.0 265.7 L914.0 265.7 L918.0 265.7 L922.0 265.7 L926.0 265.8 L930.0 265.8 L934.0 265.8 L938.0 265.8 L942.0 265.9 L946.0 265.9 L950.0 265.9 L954.0 265.9 L958.0 266.0 L962.0 266.0 L966.0 266.0 L970.0 266.1 L974.0 266.1 L978.0 266.1 L982.0 266.2 L986.0 266.2 L990.0 266.3 L994.0 266.3 L998.0 266.3 L1002.0 266.4 L1006.0 266.4 L1010.0 266.5 L1014.0 266.5 L1018.0 266.6 L1022.0 266.6 L1026.0 266.7 L1030.0 266.7 L1034.0 266.8 L1038.0 266.8 L1042.0 266.9 L1046.0 267.0 L1050.0 267.0 L1054.0 267.1 L1058.0 267.1 L1062.0 267.2 L1066.0 267.3 L1070.0 267.3 L1074.0 267.4 L1078.0 267.5 L1079.0 267.5 L1079.0 252.2 L1080.0 251.6 L1081.0 251.0 L1082.0 250.4 L1083.0 249.9 L1084.0 249.3 L1085.0 248.8 L1086.0 248.4 L1087.0 248.0 L1088.0 247.7 L1088.3 247.6 L1089.0 247.4 L1090.0 247.2 L1091.0 246.9 L1092.0 246.7 L1093.0 246.5 L1094.0 246.3 L1095.0 246.1 L1096.0 245.9 L1097.0 245.7 L1098.0 245.6 L1099.0 245.4 L1100.0 245.3 L1101.0 245.1 L1102.0 245.0 L1103.0 244.8 L1104.0 244.7 L1105.0 244.6 L1106.0 244.5 L1106.6 244.4 L1107.0 244.4 L1108.0 244.2 L1109.0 244.1 L1110.0 244.0 L1111.0 243.9 L1112.0 243.8 L1113.0 243.7 L1114.0 243.6 L1115.0 243.5 L1116.0 243.4 L1117.0 243.3 L1118.0 243.2 L1119.0 243.1 L1120.0 243.0 L1121.0 242.9 L1122.0 242.8 L1123.0 242.7 L1124.0 242.6 L1125.0 242.5 L1126.0 242.4 L1127.0 242.4 L1128.0 242.3 L1129.0 242.2 L1130.0 242.1 L1131.0 242.0 L1132.0 242.0 L1133.0 241.9 L1134.0 241.8 L1135.0 241.7 L1136.0 241.7 L1137.0 241.6 L1138.0 241.5 L1139.0 241.5 L1140.0 241.4 L1141.0 241.3 L1142.0 241.3 L1143.0 241.2 L1143.1 241.2 L1144.0 241.1 L1145.0 241.1 L1146.0 241.0 L1147.0 240.9 L1148.0 240.9 L1149.0 240.8 L1150.0 240.8 L1151.0 240.7 L1152.0 240.6 L1153.0 240.6 L1154.0 240.5 L1155.0 240.5 L1156.0 240.4 L1157.0 240.3 L1158.0 240.3 L1159.0 240.2 L1160.0 240.2 L1161.0 240.1 L1162.0 240.1 L1163.0 240.0 L1164.0 240.0 L1165.0 240.0 L1166.0 239.9 L1167.0 239.9 L1168.0 239.9 L1169.0 239.8 L1170.0 239.8 L1171.0 239.8 L1172.0 239.8 L1173.0 239.7 L1174.0 239.7 L1175.0 239.7 L1176.0 239.7 L1177.0 239.6 L1178.0 239.6 L1179.0 239.6 L1180.0 239.6 L1181.0 239.5 L1182.0 239.5 L1183.0 239.5 L1184.0 239.5 L1185.0 239.5 L1186.0 239.4 L1187.0 239.4 L1188.0 239.4 L1189.0 239.4 L1190.0 239.4 L1191.0 239.3 L1192.0 239.3 L1193.0 239.3 L1194.0 239.3 L1195.0 239.3 L1196.0 239.2 L1197.0 239.2 L1198.0 239.2 L1199.0 239.2 L1200.0 239.2 L1201.0 239.2 L1202.0 239.1 L1203.0 239.1 L1204.0 239.1 L1205.0 239.1 L1206.0 239.1 L1207.0 239.1 L1208.0 239.0 L1209.0 239.0 L1210.0 239.0 L1211.0 239.0 L1212.0 239.0 L1213.0 239.0 L1214.0 239.0 L1215.0 238.9 L1216.0 238.9 L1217.0 238.9 L1218.0 238.9 L1219.0 238.9 L1220.0 238.9 L1221.0 238.9 L1222.0 238.9 L1223.0 238.8 L1224.0 238.8 L1225.0 238.8 L1226.0 238.8 L1227.0 238.8 L1228.0 238.8 L1229.0 238.8 L1230.0 238.8 L1231.0 238.8 L1232.0 238.8 L1233.0 238.8 L1234.0 238.8 L1235.0 238.7 L1236.0 238.7 L1237.0 238.7 L1238.0 238.7 L1239.0 238.7 L1240.0 238.7 L1241.0 238.7 L1242.0 238.7 L1243.0 238.7 L1244.0 238.7 L1245.0 238.7 L1246.0 238.7 L1247.0 238.7 L1248.0 238.7 L1249.0 238.7 L1250.0 238.7" fill="none" stroke="#111" stroke-width="2.6" stroke-linejoin="round"/>
<path d="M722.0 264.4 L726.0 264.4 L730.0 264.4 L734.0 264.4 L734.0 270.6 L738.0 270.6 L742.0 270.6 L746.0 270.6 L750.0 270.6 L754.0 270.6 L758.0 270.6 L762.0 270.6 L766.0 270.6 L770.0 270.6 L774.0 270.6 L778.0 270.5 L782.0 270.5 L786.0 270.5 L790.0 270.5 L794.0 270.5 L798.0 270.5 L802.0 270.5 L806.0 270.5 L810.0 270.5 L814.0 270.5 L818.0 270.5 L822.0 270.5 L826.0 270.5 L830.0 270.5 L834.0 270.5 L838.0 270.5 L842.0 270.5 L846.0 270.5 L850.0 270.5 L854.0 270.5 L858.0 270.5 L862.0 270.5 L866.0 270.4 L870.0 270.4 L874.0 270.4 L878.0 270.4 L882.0 270.4 L886.0 270.4 L890.0 270.4 L894.0 270.4 L898.0 270.4 L902.0 270.4 L906.0 270.4 L910.0 270.4 L914.0 270.4 L918.0 270.4 L922.0 270.4 L926.0 270.4 L930.0 270.4 L934.0 270.4 L938.0 270.4 L942.0 270.4 L946.0 270.4 L950.0 270.3 L954.0 270.3 L958.0 270.3 L962.0 270.3 L966.0 270.3 L970.0 270.3 L974.0 270.3 L978.0 270.3 L982.0 270.3 L986.0 270.3 L990.0 270.3 L994.0 270.3 L998.0 270.3 L1002.0 270.3 L1006.0 270.3 L1010.0 270.3 L1014.0 270.3 L1018.0 270.3 L1022.0 270.3 L1026.0 270.3 L1030.0 270.3 L1034.0 270.3 L1038.0 270.2 L1042.0 270.2 L1046.0 270.2 L1050.0 270.2 L1054.0 270.2 L1058.0 270.2 L1062.0 270.2 L1066.0 270.2 L1070.0 270.2 L1074.0 270.2 L1078.0 270.2 L1079.0 270.2 L1079.0 253.0 L1080.0 252.4 L1081.0 251.8 L1082.0 251.2 L1083.0 250.7 L1084.0 250.1 L1085.0 249.6 L1086.0 249.2 L1087.0 248.8 L1088.0 248.5 L1088.3 248.4 L1089.0 248.2 L1090.0 248.0 L1091.0 247.7 L1092.0 247.5 L1093.0 247.3 L1094.0 247.1 L1095.0 246.9 L1096.0 246.7 L1097.0 246.5 L1098.0 246.4 L1099.0 246.2 L1100.0 246.1 L1101.0 245.9 L1102.0 245.8 L1103.0 245.6 L1104.0 245.5 L1105.0 245.4 L1106.0 245.3 L1106.6 245.2 L1107.0 245.2 L1108.0 245.0 L1109.0 244.9 L1110.0 244.8 L1111.0 244.7 L1112.0 244.6 L1113.0 244.5 L1114.0 244.4 L1115.0 244.3 L1116.0 244.2 L1117.0 244.1 L1118.0 244.0 L1119.0 243.9 L1120.0 243.8 L1121.0 243.7 L1122.0 243.6 L1123.0 243.5 L1124.0 243.4 L1125.0 243.3 L1126.0 243.2 L1127.0 243.2 L1128.0 243.1 L1129.0 243.0 L1130.0 242.9 L1131.0 242.8 L1132.0 242.8 L1133.0 242.7 L1134.0 242.6 L1135.0 242.5 L1136.0 242.5 L1137.0 242.4 L1138.0 242.3 L1139.0 242.3 L1140.0 242.2 L1141.0 242.1 L1142.0 242.1 L1143.0 242.0 L1143.1 242.0 L1144.0 241.9 L1145.0 241.9 L1146.0 241.8 L1147.0 241.8 L1148.0 241.7 L1149.0 241.6 L1150.0 241.6 L1151.0 241.5 L1152.0 241.4 L1153.0 241.4 L1154.0 241.3 L1155.0 241.3 L1156.0 241.2 L1157.0 241.2 L1158.0 241.1 L1159.0 241.1 L1160.0 241.0 L1161.0 241.0 L1162.0 240.9 L1163.0 240.9 L1164.0 240.8 L1165.0 240.8 L1166.0 240.7 L1167.0 240.7 L1168.0 240.7 L1169.0 240.6 L1170.0 240.6 L1171.0 240.6 L1172.0 240.5 L1173.0 240.5 L1174.0 240.5 L1175.0 240.4 L1176.0 240.4 L1177.0 240.4 L1178.0 240.3 L1179.0 240.3 L1180.0 240.3 L1181.0 240.2 L1182.0 240.2 L1183.0 240.2 L1184.0 240.2 L1185.0 240.1 L1186.0 240.1 L1187.0 240.1 L1188.0 240.0 L1189.0 240.0 L1190.0 240.0 L1191.0 239.9 L1192.0 239.9 L1193.0 239.9 L1194.0 239.9 L1195.0 239.8 L1196.0 239.8 L1197.0 239.8 L1198.0 239.7 L1199.0 239.7 L1200.0 239.7 L1201.0 239.7 L1202.0 239.6 L1203.0 239.6 L1204.0 239.6 L1205.0 239.5 L1206.0 239.5 L1207.0 239.5 L1208.0 239.5 L1209.0 239.4 L1210.0 239.4 L1211.0 239.4 L1212.0 239.4 L1213.0 239.4 L1214.0 239.3 L1215.0 239.3 L1216.0 239.3 L1217.0 239.3 L1218.0 239.2 L1219.0 239.2 L1220.0 239.2 L1221.0 239.2 L1222.0 239.2 L1223.0 239.2 L1224.0 239.1 L1225.0 239.1 L1226.0 239.1 L1227.0 239.1 L1228.0 239.1 L1229.0 239.1 L1230.0 239.0 L1231.0 239.0 L1232.0 239.0 L1233.0 239.0 L1234.0 239.0 L1235.0 239.0 L1236.0 239.0 L1237.0 239.0 L1238.0 239.0 L1239.0 238.9 L1240.0 238.9 L1241.0 238.9 L1242.0 238.9 L1243.0 238.9 L1244.0 238.9 L1245.0 238.9 L1246.0 238.9 L1247.0 238.9 L1248.0 238.9 L1249.0 238.9 L1250.0 238.9 L1250.0 267.6 L1251.0 267.6 L1252.0 267.6 L1253.0 267.6 L1254.0 267.6 L1255.0 267.6 L1256.0 267.6 L1257.0 267.5 L1258.0 267.5 L1259.0 267.5 L1260.0 267.4 L1261.0 267.4 L1262.0 267.3 L1263.0 267.2 L1264.0 267.1 L1265.0 267.0 L1266.0 266.9 L1267.0 266.8 L1268.0 266.6 L1268.3 266.6 L1268.8 261.3 L1269.0 263.1 L1269.3 266.5 L1270.0 266.5 L1271.0 266.5 L1272.0 266.5 L1273.0 266.4 L1274.0 266.3 L1275.0 266.2 L1275.6 266.1" fill="none" stroke="#f51d1d" stroke-width="2.6" stroke-linejoin="round"/>
</g>
<text x="8.6" y="39.6" font-size="43.2" font-weight="bold" text-anchor="start" fill="#000">A</text>
<text x="7.8" y="393" font-size="42" font-weight="bold" text-anchor="start" fill="#000">B</text>
<text x="0" y="0" transform="translate(704.4 392.1) scale(0.9 1)" font-size="43.5" font-weight="bold" text-anchor="start" fill="#000">C</text>
<path d="M427.8 63.3 V116.2 H496.7" fill="none" stroke="#111" stroke-width="2"/>
<text x="436.6" y="58.9" font-size="29" textLength="75" lengthAdjust="spacingAndGlyphs" text-anchor="start" fill="#000">0.5nA</text>
<text x="490.6" y="104.4" font-size="29" textLength="29.5" lengthAdjust="spacingAndGlyphs" text-anchor="start" fill="#000">1s</text>
<path d="M731.1 11.1 H1081.6 M731.1 20.9 H1081.6 M731.1 27.4 H1081.6 M731.1 35.7 H1081.6 M731.1 43.8 H1081.6 M731.1 52.0 H1081.6 M731.1 58.5 H1081.6 M731.1 66.1 H1081.6 M731.1 11.1 V67.4 M1081.6 11.1 V67.4 M1081.6 43.8 H1246 V58.5 H1272.7 " fill="none" stroke="#111" stroke-width="2"/>
<path d="M721.1 58.5 H731" stroke="#444" stroke-width="1.5"/>
<text x="657.4" y="16.9" font-size="21" font-weight="bold" textLength="64.3" lengthAdjust="spacingAndGlyphs" text-anchor="start" fill="#000">+40mV</text>
<text x="645.1" y="68.6" font-size="25.7" textLength="74.3" lengthAdjust="spacingAndGlyphs" text-anchor="start" fill="#000">-80mV</text>
<text x="688.6" y="92.8" font-size="20.3" font-weight="bold" textLength="70.3" lengthAdjust="spacingAndGlyphs" text-anchor="start" fill="#000">-100mV</text>
<text x="1241" y="33.3" font-size="20.3" font-weight="bold" textLength="59" lengthAdjust="spacingAndGlyphs" text-anchor="start" fill="#000">-40mV</text>
<text x="1233" y="81.1" font-size="25.7" textLength="74.8" lengthAdjust="spacingAndGlyphs" text-anchor="start" fill="#000">-80mV</text>
<g stroke="#111" stroke-width="2" fill="none">
<path d="M10.8 780.8 H572"/>
<path d="M30.7 780.8 V791"/>
<path d="M105.3 780.8 V791"/>
<path d="M179.8 780.8 V791"/>
<path d="M254.4 780.8 V791"/>
<path d="M328.9 780.8 V791"/>
<path d="M403.5 780.8 V791"/>
<path d="M478.1 780.8 V791"/>
<path d="M552.6 780.8 V791"/>
<path d="M403.8 408.5 V791"/>
<path d="M393.6 407.2 H403.8"/>
<path d="M393.6 499.8 H403.8"/>
<path d="M393.6 592.3 H403.8"/>
<path d="M393.6 684.9 H403.8"/>
<path d="M393.6 777.4 H403.8"/>
</g>
<g fill="#111"><circle cx="13.8" cy="777.5" r="1.4"/><circle cx="24.9" cy="777.5" r="1.4"/><circle cx="36.1" cy="777.5" r="1.4"/><circle cx="47.2" cy="777.5" r="1.4"/><circle cx="58.4" cy="777.5" r="1.4"/><circle cx="69.5" cy="777.5" r="1.4"/><circle cx="80.6" cy="777.5" r="1.4"/><circle cx="91.8" cy="777.5" r="1.4"/><circle cx="102.9" cy="777.5" r="1.4"/><circle cx="114.1" cy="777.5" r="1.4"/><circle cx="125.2" cy="777.5" r="1.4"/><circle cx="136.3" cy="777.5" r="1.4"/><circle cx="147.5" cy="777.5" r="1.4"/><circle cx="158.6" cy="777.5" r="1.4"/><circle cx="169.8" cy="777.5" r="1.4"/><circle cx="180.9" cy="777.5" r="1.4"/><circle cx="192.0" cy="777.5" r="1.4"/><circle cx="203.2" cy="777.5" r="1.4"/><circle cx="214.3" cy="777.5" r="1.4"/><circle cx="225.5" cy="777.5" r="1.4"/><circle cx="236.6" cy="777.5" r="1.4"/><circle cx="247.7" cy="777.5" r="1.4"/><circle cx="258.9" cy="777.5" r="1.4"/><circle cx="270.0" cy="777.5" r="1.4"/><circle cx="281.2" cy="777.5" r="1.4"/><circle cx="292.3" cy="777.5" r="1.4"/><circle cx="303.4" cy="777.5" r="1.4"/><circle cx="314.6" cy="777.5" r="1.4"/><circle cx="325.7" cy="777.5" r="1.4"/><circle cx="336.9" cy="777.5" r="1.4"/><circle cx="348.0" cy="777.5" r="1.4"/><circle cx="359.1" cy="777.5" r="1.4"/><circle cx="370.3" cy="777.5" r="1.4"/><circle cx="381.4" cy="777.5" r="1.4"/><circle cx="392.6" cy="777.5" r="1.4"/><circle cx="403.7" cy="777.5" r="1.4"/><circle cx="414.8" cy="777.5" r="1.4"/><circle cx="426.0" cy="777.5" r="1.4"/><circle cx="437.1" cy="777.5" r="1.4"/><circle cx="448.3" cy="777.5" r="1.4"/><circle cx="459.4" cy="777.5" r="1.4"/><circle cx="470.5" cy="777.5" r="1.4"/><circle cx="481.7" cy="777.5" r="1.4"/><circle cx="492.8" cy="777.5" r="1.4"/><circle cx="504.0" cy="777.5" r="1.4"/><circle cx="515.1" cy="777.5" r="1.4"/><circle cx="526.2" cy="777.5" r="1.4"/><circle cx="537.4" cy="777.5" r="1.4"/><circle cx="548.5" cy="777.5" r="1.4"/><circle cx="559.7" cy="777.5" r="1.4"/></g>
<path d="M30.7 774.5 L34.4 774.4 L38.2 774.4 L41.9 774.3 L45.6 774.3 L49.3 774.2 L53.1 774.1 L56.8 774.1 L60.5 774.0 L64.3 773.9 L68.0 773.8 L71.7 773.7 L75.4 773.6 L79.2 773.5 L82.9 773.4 L86.6 773.3 L90.3 773.2 L94.1 773.1 L97.8 772.9 L101.5 772.8 L105.3 772.6 L109.0 772.4 L112.7 772.3 L116.4 772.1 L120.2 771.9 L123.9 771.7 L127.6 771.4 L131.4 771.2 L135.1 770.9 L138.8 770.7 L142.5 770.4 L146.3 770.1 L150.0 769.7 L153.7 769.4 L157.5 769.0 L161.2 768.6 L164.9 768.2 L168.6 767.8 L172.4 767.3 L176.1 766.8 L179.8 766.3 L183.5 765.7 L187.3 765.1 L191.0 764.5 L194.7 763.8 L198.5 763.1 L202.2 762.3 L205.9 761.6 L209.6 760.7 L213.4 759.8 L217.1 758.9 L220.8 757.9 L224.6 756.8 L228.3 755.7 L232.0 754.5 L235.7 753.2 L239.5 751.9 L243.2 750.5 L246.9 749.0 L250.7 747.5 L254.4 745.9 L258.1 744.1 L261.8 742.3 L265.6 740.4 L269.3 738.4 L273.0 736.3 L276.7 734.1 L280.5 731.7 L284.2 729.3 L287.9 726.7 L291.7 724.1 L295.4 721.3 L299.1 718.4 L302.8 715.3 L306.6 712.2 L310.3 708.9 L314.0 705.4 L317.8 701.9 L321.5 698.2 L325.2 694.4 L328.9 690.4 L332.7 686.3 L336.4 682.1 L340.1 677.8 L343.9 673.3 L347.6 668.7 L351.3 664.1 L355.0 659.3 L358.8 654.3 L362.5 649.4 L366.2 644.3 L369.9 639.1 L373.7 633.9 L377.4 628.6 L381.1 623.2 L384.9 617.8 L388.6 612.3 L392.3 606.9 L396.0 601.4 L399.8 595.9 L403.5 590.5 L407.2 585.0 L411.0 579.6 L414.7 574.2 L418.4 568.9 L422.1 563.6 L425.9 558.4 L429.6 553.2 L433.3 548.2 L437.1 543.2 L440.8 538.4 L444.5 533.6 L448.2 529.0 L452.0 524.4 L455.7 520.0 L459.4 515.7 L463.1 511.6 L466.9 507.5 L470.6 503.6 L474.3 499.9 L478.1 496.2 L481.8 492.7 L485.5 489.4 L489.2 486.1 L493.0 483.0 L496.7 480.0 L500.4 477.1 L504.2 474.4 L507.9 471.8 L511.6 469.3 L515.3 466.9 L519.1 464.6 L522.8 462.4 L526.5 460.4 L530.3 458.4 L534.0 456.5 L537.7 454.7 L541.4 453.1 L545.2 451.4 L548.9 449.9 L552.6 448.5" fill="none" stroke="#111" stroke-width="1.8"/>
<path d="M30.7 776.3 L34.4 776.3 L38.2 776.3 L41.9 776.3 L45.6 776.2 L49.3 776.2 L53.1 776.2 L56.8 776.2 L60.5 776.1 L64.3 776.1 L68.0 776.1 L71.7 776.0 L75.4 776.0 L79.2 776.0 L82.9 775.9 L86.6 775.9 L90.3 775.8 L94.1 775.8 L97.8 775.7 L101.5 775.6 L105.3 775.6 L109.0 775.5 L112.7 775.4 L116.4 775.3 L120.2 775.2 L123.9 775.1 L127.6 775.0 L131.4 774.9 L135.1 774.8 L138.8 774.7 L142.5 774.5 L146.3 774.4 L150.0 774.2 L153.7 774.1 L157.5 773.9 L161.2 773.7 L164.9 773.5 L168.6 773.3 L172.4 773.1 L176.1 772.8 L179.8 772.5 L183.5 772.3 L187.3 772.0 L191.0 771.6 L194.7 771.3 L198.5 770.9 L202.2 770.5 L205.9 770.1 L209.6 769.6 L213.4 769.2 L217.1 768.6 L220.8 768.1 L224.6 767.5 L228.3 766.9 L232.0 766.2 L235.7 765.5 L239.5 764.8 L243.2 764.0 L246.9 763.2 L250.7 762.3 L254.4 761.3 L258.1 760.3 L261.8 759.3 L265.6 758.2 L269.3 757.0 L273.0 755.7 L276.7 754.4 L280.5 753.0 L284.2 751.6 L287.9 750.1 L291.7 748.5 L295.4 746.8 L299.1 745.1 L302.8 743.3 L306.6 741.4 L310.3 739.4 L314.0 737.4 L317.8 735.2 L321.5 733.0 L325.2 730.8 L328.9 728.4 L332.7 726.0 L336.4 723.6 L340.1 721.0 L343.9 718.5 L347.6 715.8 L351.3 713.1 L355.0 710.4 L358.8 707.7 L362.5 704.9 L366.2 702.1 L369.9 699.3 L373.7 696.5 L377.4 693.6 L381.1 690.8 L384.9 688.0 L388.6 685.2 L392.3 682.5 L396.0 679.7 L399.8 677.1 L403.5 674.4 L407.2 671.8 L411.0 669.3 L414.7 666.8 L418.4 664.4 L422.1 662.1 L425.9 659.8 L429.6 657.6 L433.3 655.4 L437.1 653.4 L440.8 651.4 L444.5 649.5 L448.2 647.7 L452.0 645.9 L455.7 644.2 L459.4 642.6 L463.1 641.1 L466.9 639.6 L470.6 638.3 L474.3 636.9 L478.1 635.7 L481.8 634.5 L485.5 633.4 L489.2 632.3 L493.0 631.3 L496.7 630.4 L500.4 629.5 L504.2 628.6 L507.9 627.8 L511.6 627.1 L515.3 626.4 L519.1 625.7 L522.8 625.1 L526.5 624.5 L530.3 623.9 L534.0 623.4 L537.7 622.9 L541.4 622.5 L545.2 622.0 L548.9 621.6 L552.6 621.3" fill="none" stroke="#111" stroke-width="1.8"/>
<path d="M30.7 751.0 L34.4 751.0 L38.2 750.9 L41.9 750.9 L45.6 750.9 L49.3 750.9 L53.1 750.9 L56.8 750.9 L60.5 750.9 L64.3 750.8 L68.0 750.8 L71.7 750.8 L75.4 750.8 L79.2 750.8 L82.9 750.7 L86.6 750.7 L90.3 750.7 L94.1 750.6 L97.8 750.6 L101.5 750.6 L105.3 750.5 L109.0 750.5 L112.7 750.4 L116.4 750.4 L120.2 750.3 L123.9 750.2 L127.6 750.2 L131.4 750.1 L135.1 750.0 L138.8 749.9 L142.5 749.8 L146.3 749.7 L150.0 749.6 L153.7 749.5 L157.5 749.4 L161.2 749.2 L164.9 749.1 L168.6 748.9 L172.4 748.7 L176.1 748.5 L179.8 748.3 L183.5 748.1 L187.3 747.8 L191.0 747.5 L194.7 747.2 L198.5 746.9 L202.2 746.5 L205.9 746.2 L209.6 745.8 L213.4 745.3 L217.1 744.8 L220.8 744.3 L224.6 743.8 L228.3 743.2 L232.0 742.5 L235.7 741.8 L239.5 741.0 L243.2 740.2 L246.9 739.3 L250.7 738.4 L254.4 737.3 L258.1 736.2 L261.8 735.0 L265.6 733.7 L269.3 732.4 L273.0 730.9 L276.7 729.3 L280.5 727.6 L284.2 725.8 L287.9 723.8 L291.7 721.7 L295.4 719.5 L299.1 717.1 L302.8 714.6 L306.6 711.9 L310.3 709.1 L314.0 706.1 L317.8 702.9 L321.5 699.5 L325.2 696.0 L328.9 692.2 L332.7 688.3 L336.4 684.2 L340.1 679.9 L343.9 675.5 L347.6 670.8 L351.3 666.0 L355.0 661.1 L358.8 655.9 L362.5 650.6 L366.2 645.2 L369.9 639.7 L373.7 634.1 L377.4 628.4 L381.1 622.6 L384.9 616.8 L388.6 610.9 L392.3 605.0 L396.0 599.2 L399.8 593.3 L403.5 587.5 L407.2 581.8 L411.0 576.1 L414.7 570.6 L418.4 565.2 L422.1 559.9 L425.9 554.7 L429.6 549.7 L433.3 544.8 L437.1 540.1 L440.8 535.6 L444.5 531.3 L448.2 527.2 L452.0 523.2 L455.7 519.4 L459.4 515.8 L463.1 512.4 L466.9 509.2 L470.6 506.1 L474.3 503.2 L478.1 500.5 L481.8 497.9 L485.5 495.5 L489.2 493.3 L493.0 491.2 L496.7 489.2 L500.4 487.3 L504.2 485.6 L507.9 484.0 L511.6 482.5 L515.3 481.1 L519.1 479.8 L522.8 478.5 L526.5 477.4 L530.3 476.4 L534.0 475.4 L537.7 474.5 L541.4 473.7 L545.2 472.9 L548.9 472.2 L552.6 471.5" fill="none" stroke="#111" stroke-width="2" stroke-dasharray="5 4"/>
<circle cx="30.7" cy="776.0" r="7.7" fill="#a0a0a4" stroke="#222" stroke-width="1.8"/>
<circle cx="105.3" cy="776.0" r="7.7" fill="#a0a0a4" stroke="#222" stroke-width="1.8"/>
<circle cx="179.8" cy="772.9" r="7.7" fill="#a0a0a4" stroke="#222" stroke-width="1.8"/>
<circle cx="254.4" cy="759.4" r="7.7" fill="#a0a0a4" stroke="#222" stroke-width="1.8"/>
<circle cx="328.9" cy="732.0" r="7.7" fill="#a0a0a4" stroke="#222" stroke-width="1.8"/>
<circle cx="403.5" cy="669.5" r="7.7" fill="#a0a0a4" stroke="#222" stroke-width="1.8"/>
<circle cx="478.1" cy="641.7" r="7.7" fill="#a0a0a4" stroke="#222" stroke-width="1.8"/>
<circle cx="552.6" cy="618.1" r="7.7" fill="#a0a0a4" stroke="#222" stroke-width="1.8"/>
<circle cx="30.7" cy="749.0" r="7.7" fill="#000" stroke="#000" stroke-width="1.6"/>
<circle cx="105.3" cy="744.5" r="7.7" fill="#000" stroke="#000" stroke-width="1.6"/>
<circle cx="179.8" cy="749.0" r="7.7" fill="#000" stroke="#000" stroke-width="1.6"/>
<circle cx="254.4" cy="746.0" r="7.7" fill="#000" stroke="#000" stroke-width="1.6"/>
<circle cx="328.9" cy="693.1" r="7.7" fill="#000" stroke="#000" stroke-width="1.6"/>
<circle cx="403.5" cy="581.0" r="7.7" fill="#000" stroke="#000" stroke-width="1.6"/>
<circle cx="478.1" cy="511.8" r="7.7" fill="#000" stroke="#000" stroke-width="1.6"/>
<circle cx="552.6" cy="464.6" r="7.7" fill="#000" stroke="#000" stroke-width="1.6"/>
<circle cx="30.7" cy="768.1" r="7.7" fill="#fff" stroke="#111" stroke-width="1.8"/>
<circle cx="105.3" cy="775.0" r="7.7" fill="#fff" stroke="#111" stroke-width="1.8"/>
<circle cx="179.8" cy="765.6" r="7.7" fill="#fff" stroke="#111" stroke-width="1.8"/>
<circle cx="254.4" cy="755.7" r="7.7" fill="#fff" stroke="#111" stroke-width="1.8"/>
<circle cx="328.9" cy="683.9" r="7.7" fill="#fff" stroke="#111" stroke-width="1.8"/>
<circle cx="403.5" cy="590.7" r="7.7" fill="#fff" stroke="#111" stroke-width="1.8"/>
<circle cx="478.1" cy="499.5" r="7.7" fill="#fff" stroke="#111" stroke-width="1.8"/>
<circle cx="552.6" cy="446.4" r="7.7" fill="#fff" stroke="#111" stroke-width="1.8"/>
<text x="0" y="0" transform="translate(29.5 820.4) scale(1.1 1)" font-size="26" text-anchor="middle" fill="#000">-100</text>
<text x="0" y="0" transform="translate(104.1 820.4) scale(1.1 1)" font-size="26" text-anchor="middle" fill="#000">-80</text>
<text x="0" y="0" transform="translate(178.6 820.4) scale(1.1 1)" font-size="26" text-anchor="middle" fill="#000">-60</text>
<text x="0" y="0" transform="translate(253.2 820.4) scale(1.1 1)" font-size="26" text-anchor="middle" fill="#000">-40</text>
<text x="0" y="0" transform="translate(327.7 820.4) scale(1.1 1)" font-size="26" text-anchor="middle" fill="#000">-20</text>
<text x="0" y="0" transform="translate(402.3 820.4) scale(1.1 1)" font-size="26" text-anchor="middle" fill="#000">0</text>
<text x="0" y="0" transform="translate(476.9 820.4) scale(1.1 1)" font-size="26" text-anchor="middle" fill="#000">20</text>
<text x="0" y="0" transform="translate(551.4 820.4) scale(1.1 1)" font-size="26" text-anchor="middle" fill="#000">40</text>
<text x="0" y="0" transform="translate(388.2 416.5) scale(1.1 1)" font-size="26.3" text-anchor="end" fill="#000">8</text>
<text x="0" y="0" transform="translate(388.2 509.1) scale(1.1 1)" font-size="26.3" text-anchor="end" fill="#000">6</text>
<text x="0" y="0" transform="translate(388.2 601.6) scale(1.1 1)" font-size="26.3" text-anchor="end" fill="#000">4</text>
<text x="0" y="0" transform="translate(388.2 694.2) scale(1.1 1)" font-size="26.3" text-anchor="end" fill="#000">2</text>
<text x="214.3" y="865.3" font-size="35.2" text-anchor="start" fill="#000">Voltage (mV)</text>
<text x="0" y="0" font-size="34.9" transform="translate(333.5 631.2) rotate(-90)" fill="#000">Current (pA/pF)</text>
<path d="M28.6 507.4 H68.6" stroke="#111" stroke-width="1.8"/>
<circle cx="48.7" cy="507.4" r="7.5" fill="#fff" stroke="#111" stroke-width="1.8"/>
<path d="M28.6 555.7 H48.7 M68.6 555.7 H48.7" stroke="#111" stroke-width="2.2" stroke-dasharray="4.4 4.6"/>
<circle cx="48.7" cy="555.7" r="8" fill="#000"/>
<path d="M28.6 611.6 H68.6" stroke="#666" stroke-width="2.2"/>
<circle cx="48.7" cy="611.6" r="7.5" fill="#a0a0a4" stroke="#222" stroke-width="1.8"/>
<text x="90.2" y="516.6" font-size="29.5" text-anchor="start" fill="#000">Control</text>
<text x="90.2" y="564.9" font-size="29.5" text-anchor="start" fill="#000">iCORM-2</text>
<text x="90.2" y="621" font-size="29.5" text-anchor="start" fill="#000">CORM-2</text>
<g stroke="#111" stroke-width="2" fill="none">
<path d="M814.5 451.4 V791.8"/>
<path d="M804.5 451.4 H814.5"/>
<path d="M804.5 519.5 H814.5"/>
<path d="M804.5 587.6 H814.5"/>
<path d="M804.5 655.6 H814.5"/>
<path d="M804.5 723.7 H814.5"/>
<path d="M804.5 791.8 H814.5"/>
<path d="M832.3 791.8 H1294.5"/>
</g>
<text x="801" y="459.2" font-size="27" text-anchor="end" fill="#000">100</text>
<text x="801" y="527.3" font-size="27" text-anchor="end" fill="#000">80</text>
<text x="801" y="596.9" font-size="27" text-anchor="end" fill="#000">60</text>
<text x="801" y="664.9" font-size="27" text-anchor="end" fill="#000">40</text>
<text x="801" y="733.0" font-size="27" text-anchor="end" fill="#000">20</text>
<text x="801" y="801.1" font-size="27" text-anchor="end" fill="#000">0</text>
<path d="M914.1 656.3 V649.1 M880.6 649.1 H946.3" stroke="#111" stroke-width="2" fill="none"/>
<rect x="849.2" y="656.3" width="129.8" height="135.5" fill="#a0a0a4" stroke="#111" stroke-width="2"/>
<rect x="849.2" y="790.8" width="129.8" height="1.0" fill="#000"/>
<path d="M1071.1 612.9 V603.6 M1037.8 603.6 H1104.4" stroke="#111" stroke-width="2" fill="none"/>
<rect x="1005.6" y="612.9" width="131.0" height="178.9" fill="#a0a0a4" stroke="#111" stroke-width="2"/>
<rect x="1005.6" y="782.3" width="131.0" height="9.5" fill="#000"/>
<path d="M1228.7 601.7 V590.6 M1195.4 590.6 H1261.5" stroke="#111" stroke-width="2" fill="none"/>
<rect x="1163.2" y="601.7" width="131.0" height="190.1" fill="#a0a0a4" stroke="#111" stroke-width="2"/>
<rect x="1163.2" y="777.8" width="131.0" height="14.0" fill="#000"/>
<rect x="988.7" y="442.8" width="34" height="27" fill="#000" stroke="#000" stroke-width="2"/>
<rect x="988.7" y="488.6" width="34" height="28" fill="#a0a0a4" stroke="#111" stroke-width="2"/>
<text x="0" y="0" transform="translate(1044.2 468.5) scale(0.985 1)" font-size="38" text-anchor="start" fill="#000">iCORM-2</text>
<text x="0" y="0" transform="translate(1045.4 514.4) scale(0.98 1)" font-size="38" text-anchor="start" fill="#000">30μM CORM-2</text>
<text x="0" y="0" transform="translate(858.9 848.1) scale(0.95 1)" font-size="38.5" text-anchor="start" fill="#000">0mV</text>
<text x="0" y="0" transform="translate(1009.2 850.6) scale(0.96 1)" font-size="38.5" text-anchor="start" fill="#000">+20mV</text>
<text x="0" y="0" transform="translate(1177.2 850.6) scale(0.96 1)" font-size="38.5" text-anchor="start" fill="#000">+40mV</text>
<text x="0" y="0" font-size="37.5" transform="translate(737.6 806.6) rotate(-90) scale(0.965 1)" fill="#000">% decrease tail current</text>
</svg></body></html>
